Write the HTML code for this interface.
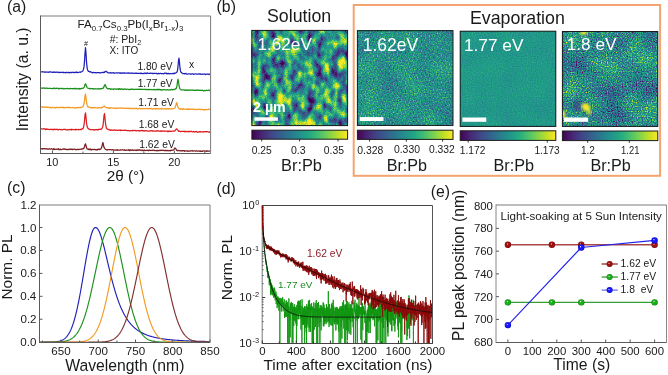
<!DOCTYPE html>
<html><head><meta charset="utf-8"><title>figure</title>
<style>
html,body{margin:0;padding:0;background:#fff;width:668px;height:375px;overflow:hidden;}
svg{display:block;font-family:"Liberation Sans",sans-serif;will-change:transform;}
</style></head><body>
<svg width="668" height="375" viewBox="0 0 668 375">
<rect width="668" height="375" fill="#fff"/>
<text x="7.02" y="12.4" font-size="15.8" fill="#1a1a1a" >(a)</text>
<text x="216.62" y="12.1" font-size="15.8" fill="#1a1a1a" >(b)</text>
<text x="7.02" y="193.3" font-size="15.8" fill="#1a1a1a" >(c)</text>
<text x="216.52" y="193.6" font-size="15.8" fill="#1a1a1a" >(d)</text>
<text x="430.82" y="196.6" font-size="15.8" fill="#1a1a1a" >(e)</text>
<polyline fill="none" stroke="#2020b8" stroke-width="1.25" stroke-linejoin="round"  points="41,71.79 41.5,71.9 42,71.82 42.5,71.74 43,71.86 43.5,71.78 44,72.02 44.5,72.31 45,71.97 45.5,71.97 46,72.21 46.5,72.21 47,72.18 47.5,71.99 48,72.19 48.5,72.35 49,71.95 49.5,72.15 50,71.87 50.5,72.01 51,71.91 51.5,72.24 52,72.04 52.5,72.36 53,72.35 53.5,72.29 54,71.83 54.5,72.24 55,72.34 55.5,72.38 56,72.06 56.5,72.28 57,72.19 57.5,72.23 58,72.61 58.5,72.24 59,72.4 59.5,72.59 60,72.3 60.5,72.4 61,72.45 61.5,72.45 62,72.19 62.5,72.46 63,72.72 63.5,72.14 64,72.63 64.5,72.48 65,72.33 65.5,72.87 66,72.62 66.5,72.23 67,72.49 67.5,72.59 68,72.44 68.5,72.62 69,72.47 69.5,72.62 70,72.78 70.5,72.36 71,72.53 71.5,72.4 72,72.52 72.5,72.25 73,72.37 73.5,72.45 74,72.66 74.5,72.7 75,72.2 75.5,72.3 76,72.58 76.5,72.04 77,72.33 77.5,72.38 78,72.63 78.5,72.48 79,72.24 79.5,72.18 80,72.14 80.5,72.4 81,71.89 81.5,71.75 82,71.64 82.5,71.19 83,70.58 83.5,69.24 84,66.91 84.5,61.49 85,53.35 85.5,47.63 86,53.12 86.5,61.74 87,66.87 87.5,69.71 88,70.66 88.5,71.39 89,71.38 89.5,71.96 90,71.73 90.5,71.79 91,72.23 91.5,72.19 92,72.46 92.5,72.93 93,72.36 93.5,72.43 94,72.63 94.5,72.71 95,72.6 95.5,72.61 96,72.81 96.5,72.79 97,72.49 97.5,72.69 98,72.73 98.5,72.52 99,72.79 99.5,72.57 100,72.94 100.5,72.79 101,72.77 101.5,72.63 102,72.71 102.5,72.32 103,72.46 103.5,72.7 104,72.09 104.5,72.47 105,71.62 105.5,71.74 106,71.22 106.5,71.76 107,72.03 107.5,72.04 108,72.82 108.5,72.99 109,72.76 109.5,72.77 110,72.82 110.5,72.68 111,73.12 111.5,72.8 112,72.92 112.5,72.78 113,72.82 113.5,72.7 114,73.22 114.5,72.95 115,73.18 115.5,73 116,72.86 116.5,72.94 117,72.9 117.5,73.02 118,72.96 118.5,72.98 119,72.77 119.5,72.89 120,73.39 120.5,72.93 121,72.86 121.5,73.14 122,73.36 122.5,72.8 123,73.05 123.5,72.98 124,72.76 124.5,73.26 125,73.12 125.5,73.14 126,72.98 126.5,73.23 127,73.04 127.5,73.12 128,72.94 128.5,72.92 129,73.44 129.5,73.08 130,73.24 130.5,73.18 131,73.11 131.5,73.1 132,73.34 132.5,73.15 133,73.19 133.5,73.23 134,73.47 134.5,73.38 135,73.32 135.5,73.14 136,72.98 136.5,73.45 137,73.46 137.5,73.25 138,73.39 138.5,73.45 139,73.46 139.5,73.49 140,73.22 140.5,73.62 141,73.07 141.5,73.5 142,73.43 142.5,73.51 143,73.72 143.5,73.65 144,73.13 144.5,73.03 145,73.53 145.5,73.17 146,73.38 146.5,73.56 147,73.07 147.5,72.98 148,73.46 148.5,73.42 149,73.37 149.5,73.43 150,73.26 150.5,73.14 151,73.41 151.5,73.26 152,73.13 152.5,73.56 153,73.46 153.5,73.56 154,73.28 154.5,73.36 155,73.29 155.5,73.32 156,73.55 156.5,73.36 157,73.59 157.5,73.59 158,73.93 158.5,73.26 159,73.72 159.5,73.53 160,73.55 160.5,73.27 161,73.47 161.5,73.72 162,73.56 162.5,73.59 163,73.53 163.5,73.82 164,73.59 164.5,73.16 165,73.46 165.5,73.21 166,72.96 166.5,73.5 167,73.88 167.5,73.62 168,73.38 168.5,73.43 169,73.84 169.5,73.65 170,73.62 170.5,73.59 171,73.6 171.5,73.75 172,73.68 172.5,73.6 173,73.32 173.5,73.59 174,73.3 174.5,73.59 175,73.02 175.5,73.1 176,72.91 176.5,72.27 177,72.14 177.5,70.36 178,66.24 178.5,60.7 179,58.11 179.5,62.45 180,68.21 180.5,70.97 181,72.24 181.5,72.57 182,73.04 182.5,73.26 183,73.67 183.5,73.6 184,73.61 184.5,73.97 185,73.6 185.5,73.67 186,73.42 186.5,74.12 187,74.02 187.5,74.04 188,74 188.5,73.91 189,73.95 189.5,73.87 190,73.89 190.5,73.95 191,74.26 191.5,74.08 192,73.97 192.5,73.87 193,73.87 193.5,74.33 194,74.12 194.5,74.04 195,73.97 195.5,73.83 196,74.04 196.5,74.24 197,74 197.5,74.04 198,74.05 198.5,74.12 199,73.79 199.5,74.07 200,73.96 200.5,74.31 201,73.99 201.5,74.27 202,74.47 202.5,74.11 203,74.06 203.5,74.22 204,74.19 204.5,74 205,74.3 205.5,74.62 206,74.17 206.5,74.19 207,74.03 207.5,74.31 208,74.01 208.5,74.05 209,74.53 209.5,74.1 210,74.51"/>
<polyline fill="none" stroke="#1c901c" stroke-width="1.25" stroke-linejoin="round"  points="41,88.2 41.5,87.99 42,88.09 42.5,88.41 43,88.02 43.5,87.97 44,87.85 44.5,88.16 45,88.47 45.5,88.39 46,88.03 46.5,88.07 47,88.16 47.5,88.34 48,88.26 48.5,88.36 49,88.39 49.5,88.29 50,88.36 50.5,88.42 51,88.37 51.5,88.5 52,88.79 52.5,88.54 53,88.44 53.5,88.11 54,88.53 54.5,88.07 55,88.19 55.5,88.65 56,88.63 56.5,88.46 57,88.16 57.5,88.44 58,88.38 58.5,88.65 59,88.98 59.5,88.58 60,88.39 60.5,88.31 61,88.54 61.5,88.53 62,88.34 62.5,88.6 63,88.35 63.5,88.81 64,88.8 64.5,88.81 65,88.5 65.5,88.71 66,88.58 66.5,88.54 67,88.55 67.5,88.36 68,88.34 68.5,88.79 69,88.6 69.5,88.69 70,88.85 70.5,88.3 71,88.5 71.5,88.69 72,88.74 72.5,88.59 73,88.88 73.5,88.72 74,88.43 74.5,88.49 75,88.84 75.5,88.78 76,88.3 76.5,88.95 77,88.8 77.5,88.95 78,88.61 78.5,88.62 79,88.45 79.5,89.17 80,88.62 80.5,88.95 81,88.48 81.5,88.61 82,88.18 82.5,88.36 83,88.49 83.5,87.75 84,87.63 84.5,86.38 85,84.54 85.5,83.72 86,84.67 86.5,86.32 87,87.33 87.5,87.88 88,88.28 88.5,88.29 89,88.33 89.5,88.64 90,88.87 90.5,88.42 91,88.76 91.5,88.65 92,88.6 92.5,88.98 93,88.72 93.5,89.14 94,88.69 94.5,88.93 95,88.82 95.5,88.72 96,88.99 96.5,88.84 97,89 97.5,88.87 98,88.66 98.5,88.86 99,88.88 99.5,89.06 100,88.67 100.5,88.83 101,88.46 101.5,88.89 102,88.47 102.5,88.21 103,88.31 103.5,88.04 104,86.56 104.5,85.32 105,84.58 105.5,85.32 106,86.97 106.5,87.69 107,88.23 107.5,88.75 108,88.61 108.5,88.93 109,88.71 109.5,88.7 110,88.61 110.5,89.38 111,88.96 111.5,89.09 112,89.05 112.5,89.1 113,89.09 113.5,89.48 114,88.9 114.5,88.8 115,88.92 115.5,88.87 116,89.29 116.5,89.31 117,88.97 117.5,88.89 118,89.1 118.5,89.46 119,88.62 119.5,89.3 120,88.99 120.5,89.42 121,89 121.5,89.17 122,88.93 122.5,89.04 123,89.52 123.5,89.41 124,89.18 124.5,89.09 125,88.89 125.5,89.2 126,89.28 126.5,89.27 127,89.28 127.5,89.08 128,89.3 128.5,89.31 129,89.58 129.5,89.7 130,89.31 130.5,89.19 131,89.33 131.5,89.23 132,89.21 132.5,89.36 133,89.17 133.5,89.5 134,89.37 134.5,89.44 135,89.36 135.5,89.26 136,89.22 136.5,89.37 137,89.32 137.5,89.48 138,89.44 138.5,89.17 139,89.47 139.5,89.19 140,89.34 140.5,89.41 141,89.06 141.5,89.5 142,89.52 142.5,89.47 143,89.42 143.5,89.44 144,89.32 144.5,89.47 145,89.42 145.5,89.56 146,89.3 146.5,89.6 147,89.59 147.5,89.54 148,89.48 148.5,89.69 149,89.25 149.5,89.68 150,89.64 150.5,89.66 151,89.69 151.5,89.49 152,89.57 152.5,89.76 153,89.72 153.5,89.68 154,89.35 154.5,89.76 155,89.9 155.5,89.87 156,89.72 156.5,89.37 157,89.88 157.5,89.66 158,89.19 158.5,89.78 159,89.41 159.5,89.46 160,89.6 160.5,89.99 161,89.66 161.5,89.8 162,90.1 162.5,90.07 163,89.74 163.5,89.72 164,89.52 164.5,89.64 165,89.87 165.5,89.86 166,89.81 166.5,89.99 167,89.64 167.5,89.79 168,89.95 168.5,89.92 169,90.02 169.5,89.88 170,89.74 170.5,89.87 171,89.59 171.5,89.45 172,89.88 172.5,89.73 173,89.78 173.5,89.34 174,89.54 174.5,89.41 175,89.22 175.5,88.72 176,88.68 176.5,87.95 177,85.65 177.5,81.71 178,79.2 178.5,81.99 179,85.05 179.5,87.79 180,88.91 180.5,89.38 181,89.82 181.5,89.86 182,89.8 182.5,89.87 183,90.02 183.5,89.8 184,89.93 184.5,90.15 185,90.39 185.5,89.99 186,90.03 186.5,90.09 187,90.34 187.5,90.08 188,90.39 188.5,89.92 189,90.09 189.5,90.09 190,90.3 190.5,90.36 191,89.86 191.5,89.99 192,90.25 192.5,90.06 193,89.9 193.5,90.42 194,90.32 194.5,90.33 195,90.15 195.5,90.46 196,90.21 196.5,90.49 197,90.09 197.5,90.11 198,90.33 198.5,90.16 199,90.45 199.5,90.37 200,90.14 200.5,90.35 201,90.27 201.5,90.54 202,90.23 202.5,90.28 203,90.62 203.5,90.83 204,90.79 204.5,90.42 205,90.45 205.5,90.73 206,90.4 206.5,90.24 207,90.47 207.5,90.54 208,90.3 208.5,90.14 209,90.19 209.5,90.62 210,90.34"/>
<polyline fill="none" stroke="#f39a22" stroke-width="1.25" stroke-linejoin="round"  points="41,106.87 41.5,106.98 42,107.1 42.5,106.95 43,107.15 43.5,106.91 44,107.05 44.5,106.94 45,107.4 45.5,107.19 46,107.07 46.5,107.17 47,107.22 47.5,107.42 48,106.98 48.5,107.11 49,107.26 49.5,107.86 50,107.55 50.5,107.35 51,107.53 51.5,107.81 52,107.37 52.5,107.35 53,107.68 53.5,107.54 54,107.59 54.5,107.36 55,107.86 55.5,107.82 56,107.6 56.5,107.63 57,107.1 57.5,107.64 58,107.48 58.5,107.61 59,107.67 59.5,107.47 60,107.21 60.5,107.62 61,107.41 61.5,107.5 62,107.45 62.5,107.5 63,107.12 63.5,107.83 64,107.64 64.5,107.82 65,107.99 65.5,107.61 66,107.25 66.5,107.43 67,107.37 67.5,107.52 68,107.64 68.5,107.23 69,107.7 69.5,107.33 70,107.7 70.5,107.62 71,107.58 71.5,107.63 72,107.54 72.5,107.53 73,107.31 73.5,107.65 74,108.02 74.5,108.05 75,107.91 75.5,107.79 76,107.51 76.5,107.92 77,107.62 77.5,107.6 78,107.54 78.5,107.6 79,107.47 79.5,107.51 80,107.27 80.5,107.36 81,107.81 81.5,107.24 82,107.05 82.5,106.96 83,106.58 83.5,105.38 84,103.76 84.5,100.6 85,95.85 85.5,94.01 86,97.97 86.5,101.87 87,104.73 87.5,105.95 88,106.99 88.5,106.64 89,107.11 89.5,107.28 90,107.62 90.5,107.69 91,107.9 91.5,107.36 92,107.86 92.5,107.68 93,107.63 93.5,107.9 94,107.62 94.5,107.41 95,107.76 95.5,107.55 96,107.73 96.5,107.94 97,107.94 97.5,108.2 98,107.85 98.5,107.58 99,107.74 99.5,107.7 100,107.63 100.5,107.94 101,107.69 101.5,107.37 102,107.8 102.5,107.43 103,107.18 103.5,106.64 104,106.27 104.5,106.1 105,106.78 105.5,107.14 106,107.53 106.5,107.77 107,107.54 107.5,107.88 108,107.91 108.5,108.04 109,107.75 109.5,108.37 110,108.08 110.5,107.83 111,107.75 111.5,108.05 112,108.1 112.5,107.98 113,108.15 113.5,108.01 114,108.26 114.5,108.02 115,108.16 115.5,108.37 116,108.7 116.5,107.99 117,108.11 117.5,108.04 118,108.37 118.5,107.99 119,108.13 119.5,108.23 120,108.05 120.5,108.06 121,108.16 121.5,107.84 122,107.98 122.5,108.2 123,108.32 123.5,108.26 124,107.94 124.5,108.21 125,108.47 125.5,108.43 126,108.31 126.5,108.16 127,108.47 127.5,108.23 128,108.12 128.5,108.2 129,108.66 129.5,108.42 130,108.61 130.5,108.29 131,108.58 131.5,108.28 132,108.38 132.5,108.91 133,108.58 133.5,108.33 134,108.42 134.5,108.51 135,108.69 135.5,108.36 136,108.11 136.5,108.41 137,108.48 137.5,108.51 138,108.75 138.5,108.56 139,108.67 139.5,108.29 140,108.69 140.5,108.94 141,108.69 141.5,108.59 142,108.58 142.5,108.91 143,108.37 143.5,108.54 144,108.66 144.5,108.73 145,108.5 145.5,108.65 146,108.54 146.5,108.63 147,108.59 147.5,108.39 148,108.62 148.5,108.81 149,108.45 149.5,108.6 150,108.79 150.5,108.45 151,108.71 151.5,108.46 152,108.91 152.5,109.15 153,109.1 153.5,108.66 154,108.86 154.5,108.74 155,108.74 155.5,109.04 156,108.47 156.5,108.96 157,108.74 157.5,109.04 158,108.8 158.5,108.64 159,108.83 159.5,108.93 160,108.8 160.5,108.9 161,108.7 161.5,108.38 162,109 162.5,108.96 163,108.86 163.5,108.85 164,109.05 164.5,108.75 165,108.71 165.5,108.82 166,109.1 166.5,108.59 167,109.11 167.5,108.74 168,108.65 168.5,109.12 169,108.85 169.5,108.61 170,108.79 170.5,109.05 171,109.09 171.5,108.75 172,108.89 172.5,108.92 173,108.59 173.5,108.71 174,108.5 174.5,108.15 175,107.64 175.5,106.65 176,104.77 176.5,102.69 177,103.02 177.5,105.44 178,107 178.5,108.11 179,108.64 179.5,108.75 180,109.22 180.5,108.68 181,109.08 181.5,108.9 182,109.37 182.5,109.37 183,108.66 183.5,108.88 184,109.23 184.5,109.27 185,109.28 185.5,109.13 186,109.25 186.5,109.3 187,109.17 187.5,109.4 188,108.75 188.5,109.34 189,109.02 189.5,109.43 190,109.2 190.5,109.08 191,109.34 191.5,109.09 192,109.1 192.5,108.98 193,109.3 193.5,109.41 194,109.52 194.5,109.3 195,109.55 195.5,109.35 196,109.34 196.5,109.48 197,109.58 197.5,109.31 198,109.34 198.5,109.37 199,109.42 199.5,109.24 200,109.63 200.5,109.35 201,109.53 201.5,109.28 202,109.53 202.5,109.55 203,109.39 203.5,109.89 204,109.57 204.5,109.86 205,109.7 205.5,109.39 206,109.45 206.5,109.62 207,109.56 207.5,109.56 208,109.5 208.5,109.21 209,109.53 209.5,109.14 210,109.67"/>
<polyline fill="none" stroke="#dc1e22" stroke-width="1.25" stroke-linejoin="round"  points="41,128.75 41.5,128.79 42,128.94 42.5,129.07 43,128.77 43.5,128.74 44,128.91 44.5,128.74 45,128.98 45.5,129.52 46,129.02 46.5,129.38 47,129 47.5,129.35 48,129.25 48.5,129.32 49,129.46 49.5,129.71 50,129.41 50.5,129.41 51,129.21 51.5,129.53 52,129.38 52.5,129.61 53,129.44 53.5,129.81 54,129.08 54.5,129.42 55,129.67 55.5,129.43 56,129.35 56.5,129.47 57,129.25 57.5,129.56 58,130.03 58.5,129.78 59,129.34 59.5,129.39 60,129.49 60.5,129.78 61,129.42 61.5,129.45 62,129.77 62.5,129.78 63,129.54 63.5,129.39 64,129.31 64.5,129.49 65,129.19 65.5,129.79 66,129.52 66.5,129.74 67,130.03 67.5,129.89 68,129.43 68.5,129.84 69,129.9 69.5,129.52 70,129.49 70.5,129.66 71,129.36 71.5,129.98 72,129.21 72.5,129.47 73,129.64 73.5,129.64 74,129.72 74.5,129.74 75,129.64 75.5,129.91 76,129.25 76.5,129.67 77,129.51 77.5,129.67 78,129.67 78.5,129.42 79,129.44 79.5,129.69 80,129.55 80.5,129.28 81,129.73 81.5,129.65 82,128.7 82.5,128.76 83,128.69 83.5,127.31 84,124.99 84.5,120.74 85,115 85.5,112.83 86,117.28 86.5,122.88 87,125.98 87.5,127.61 88,128.24 88.5,128.88 89,128.97 89.5,129.29 90,129.66 90.5,129.61 91,129.71 91.5,129.74 92,129.72 92.5,129.72 93,129.71 93.5,129.94 94,129.59 94.5,130.08 95,129.83 95.5,129.68 96,129.73 96.5,129.69 97,129.85 97.5,129.66 98,130.01 98.5,129.59 99,129.25 99.5,129.49 100,129.15 100.5,129.42 101,129.45 101.5,129.08 102,128.18 102.5,127.28 103,125.61 103.5,121.2 104,115.54 104.5,113.55 105,118.29 105.5,123.34 106,126.4 106.5,128.08 107,128.9 107.5,129.07 108,129.24 108.5,129.64 109,129.56 109.5,129.84 110,129.94 110.5,130.45 111,129.86 111.5,130.05 112,130.07 112.5,130.22 113,130.37 113.5,130.08 114,130.04 114.5,129.89 115,130.05 115.5,130.36 116,130.28 116.5,130.08 117,130.22 117.5,130.32 118,130.42 118.5,130.22 119,130.3 119.5,129.99 120,130.14 120.5,130.7 121,129.95 121.5,130.33 122,130.45 122.5,130.34 123,130.27 123.5,130.43 124,130.45 124.5,130.44 125,130.09 125.5,130.45 126,130.31 126.5,130.38 127,130.55 127.5,130.64 128,130.7 128.5,130.43 129,130.72 129.5,130.78 130,130.78 130.5,130.84 131,130.54 131.5,130.54 132,130.75 132.5,130.32 133,130.65 133.5,130.51 134,130.55 134.5,130.28 135,130.46 135.5,130.64 136,130.83 136.5,130.86 137,130.66 137.5,130.64 138,130.52 138.5,130.78 139,130.66 139.5,130.83 140,131.07 140.5,130.72 141,130.44 141.5,130.57 142,130.46 142.5,130.52 143,131.03 143.5,130.83 144,130.48 144.5,130.93 145,131.06 145.5,130.74 146,130.69 146.5,130.76 147,130.9 147.5,130.97 148,131.09 148.5,131.11 149,131.11 149.5,131.15 150,131.02 150.5,130.59 151,130.88 151.5,130.98 152,130.85 152.5,131.11 153,130.87 153.5,130.76 154,131.24 154.5,131.1 155,131.02 155.5,131.17 156,131.2 156.5,131.07 157,130.51 157.5,130.88 158,130.93 158.5,130.83 159,131.08 159.5,131.29 160,130.96 160.5,130.84 161,131.48 161.5,130.99 162,130.84 162.5,131.14 163,131.19 163.5,130.97 164,131.28 164.5,131.03 165,130.95 165.5,131.18 166,131.3 166.5,131.03 167,131.23 167.5,131.15 168,131.74 168.5,131.04 169,131.46 169.5,131.18 170,131.16 170.5,131.33 171,131.36 171.5,131.43 172,131.24 172.5,131.03 173,131.01 173.5,131.17 174,131.08 174.5,131.05 175,130.47 175.5,129.97 176,129.33 176.5,128.81 177,129.03 177.5,129.84 178,130.33 178.5,131.26 179,130.94 179.5,131.45 180,131.38 180.5,131.65 181,131.54 181.5,131.35 182,131.35 182.5,131.43 183,131.46 183.5,131.34 184,131.45 184.5,131.79 185,131.15 185.5,131.55 186,131.33 186.5,131.56 187,131.7 187.5,131.53 188,131.71 188.5,131.25 189,131.8 189.5,131.47 190,131.72 190.5,131.64 191,131.1 191.5,131.48 192,131.68 192.5,131.96 193,131.72 193.5,131.72 194,131.4 194.5,131.97 195,132.06 195.5,131.71 196,131.67 196.5,131.4 197,131.91 197.5,132.29 198,131.9 198.5,132.02 199,131.89 199.5,131.59 200,132.06 200.5,131.56 201,131.77 201.5,131.88 202,132.01 202.5,131.93 203,131.93 203.5,131.71 204,131.62 204.5,131.9 205,131.75 205.5,131.64 206,131.66 206.5,131.83 207,131.57 207.5,131.68 208,131.63 208.5,132 209,132.06 209.5,132.39 210,131.7"/>
<polyline fill="none" stroke="#7a1e22" stroke-width="1.25" stroke-linejoin="round"  points="41,148.46 41.5,148.82 42,148.64 42.5,148.66 43,149.1 43.5,148.72 44,148.59 44.5,148.59 45,148.94 45.5,148.96 46,148.65 46.5,148.75 47,149.07 47.5,149.1 48,148.88 48.5,149.15 49,149.15 49.5,148.7 50,149.01 50.5,149.16 51,148.98 51.5,148.68 52,149.06 52.5,149.28 53,149.46 53.5,148.71 54,149.68 54.5,148.94 55,149.37 55.5,149.43 56,149.39 56.5,149.23 57,148.98 57.5,149.34 58,149.08 58.5,148.73 59,149.8 59.5,149.39 60,149.62 60.5,149.08 61,149.56 61.5,149.59 62,149.59 62.5,149.28 63,149.05 63.5,149.26 64,148.86 64.5,148.96 65,149.33 65.5,149.12 66,149.29 66.5,149.3 67,149.72 67.5,149.6 68,149.33 68.5,149.59 69,149.2 69.5,149.29 70,149.54 70.5,149.12 71,149.31 71.5,149.11 72,149.4 72.5,149.71 73,149.24 73.5,149.43 74,149.21 74.5,149.17 75,149.15 75.5,149.69 76,149.87 76.5,149.5 77,149.26 77.5,149.54 78,149.34 78.5,149.56 79,149.45 79.5,149.44 80,149.5 80.5,149.24 81,149.25 81.5,148.95 82,149.16 82.5,148.88 83,148.99 83.5,148.53 84,148.08 84.5,146.82 85,144.51 85.5,143.84 86,145.4 86.5,147.53 87,148.76 87.5,149.08 88,149.07 88.5,149.55 89,149.03 89.5,149.69 90,149.3 90.5,148.91 91,150.02 91.5,149.82 92,149.31 92.5,149.57 93,149.5 93.5,149.57 94,149.26 94.5,149.42 95,149.66 95.5,149.61 96,149.8 96.5,149.58 97,150.02 97.5,149.4 98,149.58 98.5,149.11 99,149.21 99.5,149.66 100,149.11 100.5,149.24 101,148.79 101.5,147.82 102,146.29 102.5,143.65 103,142.53 103.5,145 104,147.32 104.5,148.35 105,148.84 105.5,149.34 106,149.41 106.5,149.72 107,150.11 107.5,149.8 108,149.66 108.5,149.66 109,149.55 109.5,149.56 110,149.56 110.5,149.69 111,149.7 111.5,149.95 112,149.73 112.5,149.78 113,149.59 113.5,150.17 114,149.95 114.5,150.22 115,150.03 115.5,150.17 116,149.83 116.5,150.04 117,150.44 117.5,149.66 118,150.15 118.5,150.26 119,150.01 119.5,150.09 120,150.2 120.5,149.82 121,150.04 121.5,149.79 122,149.83 122.5,149.85 123,149.96 123.5,150.02 124,150.09 124.5,149.72 125,150.42 125.5,150.26 126,150.18 126.5,149.96 127,150.02 127.5,150.16 128,150.14 128.5,149.72 129,150.22 129.5,150.67 130,149.7 130.5,150.29 131,150.17 131.5,150.08 132,150.39 132.5,149.87 133,150.16 133.5,150.43 134,150.1 134.5,150.06 135,150.17 135.5,150.07 136,150.48 136.5,149.99 137,150.36 137.5,149.93 138,150.33 138.5,150.18 139,149.67 139.5,150.21 140,150 140.5,150.14 141,150.55 141.5,150.01 142,150.03 142.5,150.55 143,150.29 143.5,150.59 144,150.34 144.5,150.1 145,150.28 145.5,150.55 146,150.5 146.5,150.31 147,150.33 147.5,150.3 148,150.21 148.5,150.74 149,150.35 149.5,150.12 150,150.26 150.5,150.52 151,150.5 151.5,150.35 152,150.25 152.5,150.4 153,150.06 153.5,150.14 154,150.58 154.5,150.32 155,150.51 155.5,150.69 156,150.58 156.5,150.45 157,150.89 157.5,150.6 158,150.4 158.5,150.63 159,150.57 159.5,150.32 160,150.51 160.5,150.47 161,150.11 161.5,150.48 162,150.47 162.5,150.44 163,150.2 163.5,150.47 164,150.54 164.5,150.58 165,150.33 165.5,150.7 166,150.32 166.5,150.53 167,150.85 167.5,150.44 168,150.48 168.5,150.81 169,150.51 169.5,150.53 170,150.63 170.5,150.79 171,150.11 171.5,150.37 172,150.29 172.5,150.21 173,150.12 173.5,149.84 174,149.53 174.5,148.45 175,147.98 175.5,148.38 176,149.04 176.5,149.9 177,150.6 177.5,150.53 178,150.44 178.5,150.62 179,150.49 179.5,150.76 180,150.91 180.5,150.59 181,150.73 181.5,151.01 182,150.7 182.5,150.85 183,150.62 183.5,150.67 184,150.74 184.5,151.29 185,150.79 185.5,150.77 186,150.78 186.5,150.86 187,151.04 187.5,150.95 188,151.34 188.5,150.98 189,151.23 189.5,151.01 190,151.08 190.5,150.68 191,150.95 191.5,150.97 192,150.95 192.5,150.57 193,151.19 193.5,150.94 194,150.94 194.5,150.99 195,151 195.5,151.13 196,150.81 196.5,150.88 197,151.14 197.5,151.12 198,151.02 198.5,150.99 199,150.94 199.5,151.11 200,151.36 200.5,150.93 201,151.45 201.5,151.32 202,151.07 202.5,151.33 203,150.89 203.5,150.84 204,150.94 204.5,151.12 205,151.15 205.5,151.12 206,151.25 206.5,150.81 207,151.35 207.5,150.97 208,151.13 208.5,151.19 209,151.05 209.5,151.02 210,151.1"/>
<line x1="40.5" y1="16" x2="210.6" y2="16" stroke="#7a7a7a" stroke-width="1.0"/>
<line x1="210.6" y1="16" x2="210.6" y2="153.5" stroke="#7a7a7a" stroke-width="1.0"/>
<line x1="40.5" y1="153.5" x2="210.6" y2="153.5" stroke="#5a5a5a" stroke-width="1.0"/>
<line x1="40.5" y1="15.5" x2="40.5" y2="154" stroke="#5a5a5a" stroke-width="1.0"/>
<line x1="52.45" y1="153.5" x2="52.45" y2="150.5" stroke="#5a5a5a" stroke-width="1.0"/>
<text x="46.19" y="165.6" font-size="10.9" fill="#1a1a1a" >10</text>
<line x1="113.4" y1="153.5" x2="113.4" y2="150.5" stroke="#5a5a5a" stroke-width="1.0"/>
<text x="107.15" y="165.6" font-size="10.9" fill="#1a1a1a" >15</text>
<line x1="174.35" y1="153.5" x2="174.35" y2="150.5" stroke="#5a5a5a" stroke-width="1.0"/>
<text x="168.23" y="165.6" font-size="10.9" fill="#1a1a1a" >20</text>
<line x1="82.93" y1="153.5" x2="82.93" y2="151.5" stroke="#5a5a5a" stroke-width="1.0"/>
<line x1="143.88" y1="153.5" x2="143.88" y2="151.5" stroke="#5a5a5a" stroke-width="1.0"/>
<line x1="204.82" y1="153.5" x2="204.82" y2="151.5" stroke="#5a5a5a" stroke-width="1.0"/>
<text x="106.73" y="181.1" font-size="15.32" fill="#1a1a1a" >2θ (°)</text>
<text transform="translate(27.9,131.24) rotate(-90)" font-size="15.7" fill="#1a1a1a">Intensity (a. u.)</text>
<text x="77.45" y="27.7" font-size="11.6" fill="#1a1a1a">FA<tspan font-size="7.8" dy="3.4">0.7</tspan><tspan dy="-3.4">Cs</tspan><tspan font-size="7.8" dy="3.4">0.3</tspan><tspan dy="-3.4">Pb(I</tspan><tspan font-size="7.8" dy="3.4">x</tspan><tspan dy="-3.4">Br</tspan><tspan font-size="7.8" dy="3.4">1-x</tspan><tspan dy="-3.4">)</tspan><tspan font-size="7.8" dy="3.4">3</tspan></text>
<text x="109.7" y="42.8" font-size="10.5" fill="#1a1a1a">#: PbI<tspan font-size="7.3" dy="2.6">2</tspan></text>
<text x="109.57" y="54.4" font-size="10" fill="#1a1a1a" >X: ITO</text>
<text x="84" y="45.6" font-size="7.2" fill="#1a1a1a" >#</text>
<text x="188.92" y="68.4" font-size="10.3" fill="#1a1a1a" >x</text>
<text x="137.42" y="70" font-size="10.22" fill="#1a1a1a" >1.80 eV</text>
<text x="137.63" y="87" font-size="10.16" fill="#1a1a1a" >1.77 eV</text>
<text x="138.31" y="106.4" font-size="10.37" fill="#1a1a1a" >1.71 eV</text>
<text x="138.71" y="128" font-size="10.34" fill="#1a1a1a" >1.68 eV</text>
<text x="139.21" y="147.9" font-size="10.34" fill="#1a1a1a" >1.62 eV</text>
<text x="266.98" y="22.2" font-size="17.78" fill="#1a1a1a" >Solution</text>
<text x="469.94" y="23.9" font-size="17.8" fill="#1a1a1a" >Evaporation</text>
<rect x="353.7" y="5" width="306.4" height="170.8" fill="none" stroke="#f4a46e" stroke-width="2"/>
<defs>
<filter id="fSol" x="0" y="0" width="100%" height="100%" color-interpolation-filters="sRGB">
<feTurbulence type="fractalNoise" baseFrequency="0.13 0.085" numOctaves="2" seed="3"/>
<feColorMatrix type="matrix" values="1 0 0 0 0  1 0 0 0 0  1 0 0 0 0  0 0 0 0 1" result="a"/>
<feTurbulence type="fractalNoise" baseFrequency="0.9" numOctaves="1" seed="21"/>
<feColorMatrix type="matrix" values="1 0 0 0 0  1 0 0 0 0  1 0 0 0 0  0 0 0 0 1" result="b"/>
<feComposite in="a" in2="b" operator="arithmetic" k1="0" k2="0.7826" k3="0.2174" k4="0"/>
<feComponentTransfer><feFuncR type="linear" slope="2.3000" intercept="-0.6300"/><feFuncG type="linear" slope="2.3000" intercept="-0.6300"/><feFuncB type="linear" slope="2.3000" intercept="-0.6300"/></feComponentTransfer>
<feComponentTransfer><feFuncR type="table" tableValues="0.267 0.282 0.255 0.208 0.165 0.129 0.133 0.267 0.478 0.741 0.992"/><feFuncG type="table" tableValues="0.004 0.141 0.267 0.373 0.471 0.569 0.659 0.749 0.820 0.875 0.906"/><feFuncB type="table" tableValues="0.329 0.459 0.529 0.553 0.557 0.549 0.518 0.439 0.318 0.149 0.145"/></feComponentTransfer>
<feGaussianBlur stdDeviation="0.3" edgeMode="duplicate"/>
</filter>
<filter id="fE1" x="0" y="0" width="100%" height="100%" color-interpolation-filters="sRGB">
<feTurbulence type="fractalNoise" baseFrequency="0.05" numOctaves="1" seed="5"/>
<feColorMatrix type="matrix" values="1 0 0 0 0  1 0 0 0 0  1 0 0 0 0  0 0 0 0 1" result="a"/>
<feTurbulence type="fractalNoise" baseFrequency="0.75" numOctaves="1" seed="22"/>
<feColorMatrix type="matrix" values="1 0 0 0 0  1 0 0 0 0  1 0 0 0 0  0 0 0 0 1" result="b"/>
<feComposite in="a" in2="b" operator="arithmetic" k1="0" k2="0.2222" k3="0.7778" k4="0"/>
<feComponentTransfer><feFuncR type="linear" slope="1.3500" intercept="-0.1700"/><feFuncG type="linear" slope="1.3500" intercept="-0.1700"/><feFuncB type="linear" slope="1.3500" intercept="-0.1700"/></feComponentTransfer>
<feComponentTransfer><feFuncR type="table" tableValues="0.267 0.282 0.255 0.208 0.165 0.129 0.133 0.267 0.478 0.741 0.992"/><feFuncG type="table" tableValues="0.004 0.141 0.267 0.373 0.471 0.569 0.659 0.749 0.820 0.875 0.906"/><feFuncB type="table" tableValues="0.329 0.459 0.529 0.553 0.557 0.549 0.518 0.439 0.318 0.149 0.145"/></feComponentTransfer>
<feGaussianBlur stdDeviation="0.35" edgeMode="duplicate"/>
</filter>
<filter id="fE2" x="0" y="0" width="100%" height="100%" color-interpolation-filters="sRGB">
<feTurbulence type="fractalNoise" baseFrequency="0.05" numOctaves="1" seed="9"/>
<feColorMatrix type="matrix" values="1 0 0 0 0  1 0 0 0 0  1 0 0 0 0  0 0 0 0 1" result="a"/>
<feTurbulence type="fractalNoise" baseFrequency="0.8" numOctaves="1" seed="23"/>
<feColorMatrix type="matrix" values="1 0 0 0 0  1 0 0 0 0  1 0 0 0 0  0 0 0 0 1" result="b"/>
<feComposite in="a" in2="b" operator="arithmetic" k1="0" k2="0.2222" k3="0.7778" k4="0"/>
<feComponentTransfer><feFuncR type="linear" slope="0.4500" intercept="0.3100"/><feFuncG type="linear" slope="0.4500" intercept="0.3100"/><feFuncB type="linear" slope="0.4500" intercept="0.3100"/></feComponentTransfer>
<feComponentTransfer><feFuncR type="table" tableValues="0.267 0.282 0.255 0.208 0.165 0.129 0.133 0.267 0.478 0.741 0.992"/><feFuncG type="table" tableValues="0.004 0.141 0.267 0.373 0.471 0.569 0.659 0.749 0.820 0.875 0.906"/><feFuncB type="table" tableValues="0.329 0.459 0.529 0.553 0.557 0.549 0.518 0.439 0.318 0.149 0.145"/></feComponentTransfer>
</filter>
<filter id="fE3" x="0" y="0" width="100%" height="100%" color-interpolation-filters="sRGB">
<feTurbulence type="fractalNoise" baseFrequency="0.04" numOctaves="2" seed="11"/>
<feColorMatrix type="matrix" values="1 0 0 0 0  1 0 0 0 0  1 0 0 0 0  0 0 0 0 1" result="a"/>
<feTurbulence type="fractalNoise" baseFrequency="0.8" numOctaves="1" seed="24"/>
<feColorMatrix type="matrix" values="1 0 0 0 0  1 0 0 0 0  1 0 0 0 0  0 0 0 0 1" result="b"/>
<feComposite in="a" in2="b" operator="arithmetic" k1="0" k2="0.2632" k3="0.7368" k4="0"/>
<feComponentTransfer><feFuncR type="linear" slope="1.9000" intercept="-0.4800"/><feFuncG type="linear" slope="1.9000" intercept="-0.4800"/><feFuncB type="linear" slope="1.9000" intercept="-0.4800"/></feComponentTransfer>
<feComponentTransfer><feFuncR type="table" tableValues="0.267 0.282 0.255 0.208 0.165 0.129 0.133 0.267 0.478 0.741 0.992"/><feFuncG type="table" tableValues="0.004 0.141 0.267 0.373 0.471 0.569 0.659 0.749 0.820 0.875 0.906"/><feFuncB type="table" tableValues="0.329 0.459 0.529 0.553 0.557 0.549 0.518 0.439 0.318 0.149 0.145"/></feComponentTransfer>
<feGaussianBlur stdDeviation="0.25" edgeMode="duplicate"/>
</filter>
<linearGradient id="gv" x1="0" x2="1" y1="0" y2="0"><stop offset="0" stop-color="#440154"/><stop offset="0.1" stop-color="#482475"/><stop offset="0.2" stop-color="#414487"/><stop offset="0.3" stop-color="#355f8d"/><stop offset="0.4" stop-color="#2a788e"/><stop offset="0.5" stop-color="#21918c"/><stop offset="0.6" stop-color="#22a884"/><stop offset="0.7" stop-color="#44bf70"/><stop offset="0.8" stop-color="#7ad151"/><stop offset="0.9" stop-color="#bddf26"/><stop offset="1" stop-color="#fde725"/></linearGradient>
<filter id="blur1" x="-50%" y="-50%" width="200%" height="200%"><feGaussianBlur stdDeviation="0.8"/></filter>
</defs>
<rect x="251.9" y="30.4" width="95.7" height="95.2" filter="url(#fSol)" fill="#21918c"/>
<rect x="251.9" y="30.4" width="95.7" height="95.2" fill="none" stroke="#1c1c1c" stroke-width="1"/>
<rect x="254.4" y="117.3" width="23.5" height="3.5" fill="#fff"/>
<rect x="251.9" y="130.2" width="95.7" height="9" fill="url(#gv)" stroke="#1c1c1c" stroke-width="1"/>
<rect x="357.4" y="30.7" width="95.6" height="94.7" filter="url(#fE1)" fill="#21918c"/>
<rect x="357.4" y="30.7" width="95.6" height="94.7" fill="none" stroke="#1c1c1c" stroke-width="1"/>
<rect x="359.7" y="117.1" width="23.8" height="3.9" fill="#fff"/>
<rect x="357.4" y="130.2" width="95.6" height="9.2" fill="url(#gv)" stroke="#1c1c1c" stroke-width="1"/>
<rect x="460.2" y="31.2" width="95.6" height="95.2" filter="url(#fE2)" fill="#21918c"/>
<rect x="460.2" y="31.2" width="95.6" height="95.2" fill="none" stroke="#1c1c1c" stroke-width="1"/>
<rect x="462.4" y="117.5" width="23.9" height="4.3" fill="#fff"/>
<rect x="460.2" y="130.8" width="95.6" height="9.6" fill="url(#gv)" stroke="#1c1c1c" stroke-width="1"/>
<rect x="562.4" y="31.5" width="95.4" height="94.9" filter="url(#fE3)" fill="#21918c"/>
<clipPath id="cm3"><rect x="562.4" y="31.5" width="95.4" height="94.9"/></clipPath>
<g clip-path="url(#cm3)"><g filter="url(#blur1)">
<ellipse cx="577" cy="106" rx="4" ry="5.5" fill="#3a4a88" opacity="0.6"/>
<ellipse cx="586" cy="107.2" rx="4.6" ry="3.6" transform="rotate(40 586 107.2)" fill="#f2e62a"/>
<ellipse cx="589.2" cy="112" rx="1.6" ry="3" fill="#d6e030"/>
<ellipse cx="563" cy="114" rx="2.2" ry="3.6" fill="#e8e33a"/>
<ellipse cx="583.5" cy="32.8" rx="3.6" ry="2" fill="#dfe330"/>
</g></g>
<rect x="562.4" y="31.5" width="95.4" height="94.9" fill="none" stroke="#1c1c1c" stroke-width="1"/>
<rect x="564" y="117.5" width="24.1" height="4.3" fill="#fff"/>
<rect x="562.4" y="131" width="95.4" height="9.6" fill="url(#gv)" stroke="#1c1c1c" stroke-width="1"/>
<text x="257.39" y="49.9" font-size="17.2" fill="#ffffff" >1.62eV</text>
<text x="362.77" y="51.4" font-size="17.45" fill="#ffffff" >1.62eV</text>
<text x="463.89" y="50.6" font-size="17.29" fill="#ffffff" >1.77 eV</text>
<text x="566.79" y="49.5" font-size="17.22" fill="#ffffff" >1.8 eV</text>
<text x="253.1" y="111.5" font-size="14.17" fill="#ffffff" font-weight="bold" >2 µm</text>
<text x="281.06" y="170.7" font-size="16.37" fill="#1a1a1a" >Br:Pb</text>
<text x="386.68" y="170.5" font-size="16.15" fill="#1a1a1a" >Br:Pb</text>
<text x="493.47" y="171.2" font-size="16.2" fill="#1a1a1a" >Br:Pb</text>
<text x="590.48" y="171.2" font-size="16.15" fill="#1a1a1a" >Br:Pb</text>
<line x1="261.7" y1="139.2" x2="261.7" y2="141.4" stroke="#1c1c1c" stroke-width="0.9"/>
<line x1="299.6" y1="139.2" x2="299.6" y2="141.4" stroke="#1c1c1c" stroke-width="0.9"/>
<line x1="338" y1="139.2" x2="338" y2="141.4" stroke="#1c1c1c" stroke-width="0.9"/>
<text x="251.7" y="153.6" font-size="10.8" fill="#1a1a1a" textLength="20.04" lengthAdjust="spacingAndGlyphs" >0.25</text>
<text x="290.89" y="153.6" font-size="10.8" fill="#1a1a1a" textLength="14.68" lengthAdjust="spacingAndGlyphs" >0.3</text>
<text x="323.79" y="153.6" font-size="10.8" fill="#1a1a1a" textLength="20.25" lengthAdjust="spacingAndGlyphs" >0.35</text>
<line x1="369.6" y1="139.4" x2="369.6" y2="141.6" stroke="#1c1c1c" stroke-width="0.9"/>
<line x1="406.3" y1="139.4" x2="406.3" y2="141.6" stroke="#1c1c1c" stroke-width="0.9"/>
<line x1="442.6" y1="139.4" x2="442.6" y2="141.6" stroke="#1c1c1c" stroke-width="0.9"/>
<text x="357.29" y="153.5" font-size="10.8" fill="#1a1a1a" textLength="26.06" lengthAdjust="spacingAndGlyphs" >0.328</text>
<text x="393.89" y="153.4" font-size="10.8" fill="#1a1a1a" textLength="26.12" lengthAdjust="spacingAndGlyphs" >0.330</text>
<text x="428.9" y="153.4" font-size="10.8" fill="#1a1a1a" textLength="25.82" lengthAdjust="spacingAndGlyphs" >0.332</text>
<line x1="468.2" y1="140.4" x2="468.2" y2="142.6" stroke="#1c1c1c" stroke-width="0.9"/>
<line x1="547.3" y1="140.4" x2="547.3" y2="142.6" stroke="#1c1c1c" stroke-width="0.9"/>
<text x="459.83" y="154.2" font-size="10.8" fill="#1a1a1a" textLength="25.49" lengthAdjust="spacingAndGlyphs" >1.172</text>
<text x="534.43" y="154.2" font-size="10.8" fill="#1a1a1a" textLength="25.32" lengthAdjust="spacingAndGlyphs" >1.173</text>
<line x1="587.7" y1="140.6" x2="587.7" y2="142.8" stroke="#1c1c1c" stroke-width="0.9"/>
<line x1="629.3" y1="140.6" x2="629.3" y2="142.8" stroke="#1c1c1c" stroke-width="0.9"/>
<text x="580.94" y="154" font-size="10.8" fill="#1a1a1a" textLength="13.86" lengthAdjust="spacingAndGlyphs" >1.2</text>
<text x="621.09" y="154" font-size="10.8" fill="#1a1a1a" textLength="18.28" lengthAdjust="spacingAndGlyphs" >1.21</text>
<polyline fill="none" stroke="#2020b8" stroke-width="1.15" stroke-linejoin="round"  points="40,342.2 40.5,342.2 41,342.2 41.5,342.2 42,342.2 42.5,342.2 43,342.2 43.5,342.19 44,342.19 44.5,342.19 45,342.19 45.5,342.19 46,342.19 46.5,342.18 47,342.18 47.5,342.17 48,342.17 48.5,342.16 49,342.16 49.5,342.15 50,342.14 50.5,342.13 51,342.12 51.5,342.1 52,342.09 52.5,342.07 53,342.04 53.5,342.02 54,341.99 54.5,341.95 55,341.91 55.5,341.87 56,341.82 56.5,341.76 57,341.69 57.5,341.61 58,341.53 58.5,341.43 59,341.32 59.5,341.19 60,341.05 60.5,340.89 61,340.72 61.5,340.52 62,340.3 62.5,340.05 63,339.78 63.5,339.48 64,339.14 64.5,338.77 65,338.36 65.5,337.92 66,337.42 66.5,336.89 67,336.3 67.5,335.65 68,334.96 68.5,334.2 69,333.38 69.5,332.49 70,331.53 70.5,330.5 71,329.39 71.5,328.21 72,326.94 72.5,325.59 73,324.15 73.5,322.62 74,321 74.5,319.29 75,317.49 75.5,315.59 76,313.6 76.5,311.52 77,309.34 77.5,307.08 78,304.72 78.5,302.29 79,299.77 79.5,297.17 80,294.51 80.5,291.77 81,288.98 81.5,286.14 82,283.25 82.5,280.33 83,277.38 83.5,274.41 84,271.44 84.5,268.47 85,265.52 85.5,262.6 86,259.71 86.5,256.88 87,254.1 87.5,251.41 88,248.8 88.5,246.3 89,243.9 89.5,241.63 90,239.5 90.5,237.51 91,235.68 91.5,234.01 92,232.52 92.5,231.21 93,230.09 93.5,229.16 94,228.44 94.5,227.92 95,227.6 95.5,227.5 96,227.58 96.5,227.81 97,228.2 97.5,228.74 98,229.42 98.5,230.25 99,231.22 99.5,232.32 100,233.55 100.5,234.9 101,236.35 101.5,237.91 102,239.57 102.5,241.3 103,243.12 103.5,245 104,246.95 104.5,248.94 105,250.97 105.5,253.04 106,255.14 106.5,257.25 107,259.38 107.5,261.51 108,263.64 108.5,265.76 109,267.87 109.5,269.96 110,272.03 110.5,274.07 111,276.09 111.5,278.07 112,280.02 112.5,281.93 113,283.8 113.5,285.63 114,287.41 114.5,289.16 115,290.86 115.5,292.51 116,294.12 116.5,295.68 117,297.2 117.5,298.68 118,300.1 118.5,301.49 119,302.83 119.5,304.13 120,305.39 120.5,306.6 121,307.78 121.5,308.91 122,310.01 122.5,311.07 123,312.09 123.5,313.08 124,314.03 124.5,314.95 125,315.83 125.5,316.69 126,317.52 126.5,318.31 127,319.08 127.5,319.82 128,320.53 128.5,321.22 129,321.88 129.5,322.52 130,323.14 130.5,323.73 131,324.31 131.5,324.86 132,325.39 132.5,325.91 133,326.4 133.5,326.88 134,327.34 134.5,327.79 135,328.22 135.5,328.63 136,329.03 136.5,329.42 137,329.79 137.5,330.15 138,330.5 138.5,330.83 139,331.15 139.5,331.47 140,331.77 140.5,332.06 141,332.34 141.5,332.62 142,332.88 142.5,333.13 143,333.38 143.5,333.62 144,333.85 144.5,334.07 145,334.29 145.5,334.5 146,334.7 146.5,334.89 147,335.08 147.5,335.27 148,335.44 148.5,335.61 149,335.78 149.5,335.94 150,336.1 150.5,336.25 151,336.4 151.5,336.54 152,336.68 152.5,336.81 153,336.94 153.5,337.07 154,337.19 154.5,337.31 155,337.42 155.5,337.53 156,337.64 156.5,337.75 157,337.85 157.5,337.95 158,338.05 158.5,338.14 159,338.23 159.5,338.32 160,338.41 160.5,338.49 161,338.57 161.5,338.65 162,338.73 162.5,338.8 163,338.88 163.5,338.95 164,339.02 164.5,339.08 165,339.15 165.5,339.21 166,339.27 166.5,339.34 167,339.39 167.5,339.45 168,339.51 168.5,339.56 169,339.61 169.5,339.67 170,339.72 170.5,339.77 171,339.81 171.5,339.86 172,339.91 172.5,339.95 173,339.99 173.5,340.04 174,340.08 174.5,340.12 175,340.16 175.5,340.2 176,340.23 176.5,340.27 177,340.3 177.5,340.34 178,340.37 178.5,340.41 179,340.44 179.5,340.47 180,340.5 180.5,340.53 181,340.56 181.5,340.59 182,340.62 182.5,340.65 183,340.67 183.5,340.7 184,340.73 184.5,340.75 185,340.78 185.5,340.8 186,340.82 186.5,340.85 187,340.87 187.5,340.89 188,340.91 188.5,340.94 189,340.96 189.5,340.98 190,341 190.5,341.02 191,341.04 191.5,341.05 192,341.07 192.5,341.09 193,341.11 193.5,341.13 194,341.14 194.5,341.16 195,341.17 195.5,341.19 196,341.21 196.5,341.22 197,341.24 197.5,341.25 198,341.27 198.5,341.28 199,341.29 199.5,341.31 200,341.32 200.5,341.33 201,341.35 201.5,341.36 202,341.37 202.5,341.38 203,341.4 203.5,341.41 204,341.42 204.5,341.43 205,341.44 205.5,341.45 206,341.46 206.5,341.47 207,341.48 207.5,341.49 208,341.5 208.5,341.51 209,341.52 209.5,341.53"/>
<polyline fill="none" stroke="#1c901c" stroke-width="1.15" stroke-linejoin="round"  points="40,342.2 40.5,342.2 41,342.2 41.5,342.2 42,342.2 42.5,342.2 43,342.2 43.5,342.2 44,342.2 44.5,342.2 45,342.19 45.5,342.19 46,342.19 46.5,342.19 47,342.19 47.5,342.19 48,342.19 48.5,342.18 49,342.18 49.5,342.18 50,342.18 50.5,342.17 51,342.17 51.5,342.16 52,342.16 52.5,342.15 53,342.15 53.5,342.14 54,342.13 54.5,342.12 55,342.11 55.5,342.1 56,342.08 56.5,342.07 57,342.05 57.5,342.03 58,342.01 58.5,341.98 59,341.95 59.5,341.92 60,341.89 60.5,341.85 61,341.8 61.5,341.75 62,341.7 62.5,341.64 63,341.57 63.5,341.5 64,341.42 64.5,341.33 65,341.23 65.5,341.12 66,341 66.5,340.87 67,340.73 67.5,340.57 68,340.4 68.5,340.21 69,340.01 69.5,339.79 70,339.55 70.5,339.29 71,339 71.5,338.7 72,338.36 72.5,338.01 73,337.62 73.5,337.2 74,336.76 74.5,336.28 75,335.76 75.5,335.21 76,334.62 76.5,333.99 77,333.32 77.5,332.6 78,331.85 78.5,331.04 79,330.18 79.5,329.28 80,328.32 80.5,327.31 81,326.24 81.5,325.12 82,323.95 82.5,322.71 83,321.41 83.5,320.06 84,318.64 84.5,317.17 85,315.63 85.5,314.04 86,312.38 86.5,310.66 87,308.88 87.5,307.05 88,305.15 88.5,303.21 89,301.21 89.5,299.15 90,297.05 90.5,294.9 91,292.71 91.5,290.48 92,288.21 92.5,285.91 93,283.58 93.5,281.22 94,278.85 94.5,276.47 95,274.07 95.5,271.67 96,269.28 96.5,266.89 97,264.51 97.5,262.16 98,259.83 98.5,257.54 99,255.28 99.5,253.08 100,250.92 100.5,248.82 101,246.79 101.5,244.83 102,242.95 102.5,241.15 103,239.44 103.5,237.83 104,236.32 104.5,234.91 105,233.62 105.5,232.43 106,231.37 106.5,230.43 107,229.62 107.5,228.93 108,228.38 108.5,227.96 109,227.67 109.5,227.52 110,227.51 110.5,227.64 111,227.92 111.5,228.34 112,228.91 112.5,229.61 113,230.46 113.5,231.44 114,232.55 114.5,233.78 115,235.15 115.5,236.62 116,238.21 116.5,239.91 117,241.71 117.5,243.6 118,245.58 118.5,247.64 119,249.77 119.5,251.98 120,254.24 120.5,256.55 121,258.91 121.5,261.31 122,263.74 122.5,266.19 123,268.66 123.5,271.14 124,273.62 124.5,276.11 125,278.58 125.5,281.04 126,283.48 126.5,285.89 127,288.27 127.5,290.62 128,292.93 128.5,295.2 129,297.41 129.5,299.58 130,301.7 130.5,303.75 131,305.76 131.5,307.7 132,309.58 132.5,311.39 133,313.14 133.5,314.83 134,316.45 134.5,318.01 135,319.5 135.5,320.93 136,322.29 136.5,323.59 137,324.83 137.5,326 138,327.12 138.5,328.17 139,329.17 139.5,330.11 140,331 140.5,331.84 141,332.63 141.5,333.36 142,334.06 142.5,334.7 143,335.31 143.5,335.87 144,336.4 144.5,336.88 145,337.34 145.5,337.76 146,338.15 146.5,338.51 147,338.84 147.5,339.15 148,339.43 148.5,339.69 149,339.92 149.5,340.14 150,340.34 150.5,340.52 151,340.69 151.5,340.84 152,340.98 152.5,341.1 153,341.22 153.5,341.32 154,341.41 154.5,341.5 155,341.57 155.5,341.64 156,341.7 156.5,341.76 157,341.81 157.5,341.85 158,341.89 158.5,341.93 159,341.96 159.5,341.99 160,342.01 160.5,342.04 161,342.06 161.5,342.07 162,342.09 162.5,342.1 163,342.12 163.5,342.13 164,342.14 164.5,342.14 165,342.15 165.5,342.16 166,342.16 166.5,342.17 167,342.17 167.5,342.18 168,342.18 168.5,342.18 169,342.18 169.5,342.19 170,342.19 170.5,342.19 171,342.19 171.5,342.19 172,342.19 172.5,342.19 173,342.2 173.5,342.2 174,342.2 174.5,342.2 175,342.2 175.5,342.2 176,342.2 176.5,342.2 177,342.2 177.5,342.2 178,342.2 178.5,342.2 179,342.2 179.5,342.2 180,342.2 180.5,342.2 181,342.2 181.5,342.2 182,342.2 182.5,342.2 183,342.2 183.5,342.2 184,342.2 184.5,342.2 185,342.2 185.5,342.2 186,342.2 186.5,342.2 187,342.2 187.5,342.2 188,342.2 188.5,342.2 189,342.2 189.5,342.2 190,342.2 190.5,342.2 191,342.2 191.5,342.2 192,342.2 192.5,342.2 193,342.2 193.5,342.2 194,342.2 194.5,342.2 195,342.2 195.5,342.2 196,342.2 196.5,342.2 197,342.2 197.5,342.2 198,342.2 198.5,342.2 199,342.2 199.5,342.2 200,342.2 200.5,342.2 201,342.2 201.5,342.2 202,342.2 202.5,342.2 203,342.2 203.5,342.2 204,342.2 204.5,342.2 205,342.2 205.5,342.2 206,342.2 206.5,342.2 207,342.2 207.5,342.2 208,342.2 208.5,342.2 209,342.2 209.5,342.2"/>
<polyline fill="none" stroke="#f39a22" stroke-width="1.15" stroke-linejoin="round"  points="40,342.2 40.5,342.2 41,342.2 41.5,342.2 42,342.2 42.5,342.2 43,342.2 43.5,342.2 44,342.2 44.5,342.2 45,342.2 45.5,342.2 46,342.2 46.5,342.2 47,342.2 47.5,342.2 48,342.2 48.5,342.2 49,342.2 49.5,342.2 50,342.2 50.5,342.2 51,342.2 51.5,342.2 52,342.2 52.5,342.2 53,342.2 53.5,342.2 54,342.2 54.5,342.2 55,342.2 55.5,342.2 56,342.2 56.5,342.2 57,342.2 57.5,342.2 58,342.2 58.5,342.2 59,342.2 59.5,342.2 60,342.2 60.5,342.2 61,342.2 61.5,342.2 62,342.2 62.5,342.2 63,342.2 63.5,342.2 64,342.2 64.5,342.2 65,342.2 65.5,342.19 66,342.19 66.5,342.19 67,342.19 67.5,342.19 68,342.19 68.5,342.19 69,342.18 69.5,342.18 70,342.18 70.5,342.17 71,342.17 71.5,342.17 72,342.16 72.5,342.15 73,342.15 73.5,342.14 74,342.13 74.5,342.12 75,342.1 75.5,342.09 76,342.07 76.5,342.06 77,342.03 77.5,342.01 78,341.98 78.5,341.95 79,341.92 79.5,341.88 80,341.83 80.5,341.79 81,341.73 81.5,341.67 82,341.6 82.5,341.52 83,341.43 83.5,341.34 84,341.23 84.5,341.11 85,340.98 85.5,340.84 86,340.68 86.5,340.5 87,340.31 87.5,340.09 88,339.86 88.5,339.6 89,339.32 89.5,339.01 90,338.67 90.5,338.31 91,337.91 91.5,337.48 92,337.02 92.5,336.51 93,335.97 93.5,335.38 94,334.75 94.5,334.07 95,333.34 95.5,332.56 96,331.73 96.5,330.84 97,329.89 97.5,328.88 98,327.81 98.5,326.68 99,325.48 99.5,324.21 100,322.87 100.5,321.47 101,319.99 101.5,318.44 102,316.82 102.5,315.13 103,313.36 103.5,311.52 104,309.61 104.5,307.64 105,305.59 105.5,303.48 106,301.3 106.5,299.06 107,296.76 107.5,294.41 108,292.01 108.5,289.56 109,287.07 109.5,284.55 110,281.99 110.5,279.41 111,276.81 111.5,274.2 112,271.58 112.5,268.97 113,266.37 113.5,263.79 114,261.23 114.5,258.71 115,256.23 115.5,253.8 116,251.44 116.5,249.14 117,246.92 117.5,244.78 118,242.73 118.5,240.79 119,238.95 119.5,237.23 120,235.63 120.5,234.16 121,232.82 121.5,231.63 122,230.57 122.5,229.67 123,228.92 123.5,228.33 124,227.89 124.5,227.62 125,227.5 125.5,227.55 126,227.75 126.5,228.12 127,228.63 127.5,229.3 128,230.12 128.5,231.08 129,232.19 129.5,233.43 130,234.81 130.5,236.32 131,237.95 131.5,239.69 132,241.54 132.5,243.5 133,245.55 133.5,247.69 134,249.9 134.5,252.19 135,254.54 135.5,256.95 136,259.41 136.5,261.9 137,264.43 137.5,266.98 138,269.54 138.5,272.12 139,274.69 139.5,277.26 140,279.82 140.5,282.36 141,284.87 141.5,287.36 142,289.81 142.5,292.22 143,294.58 143.5,296.89 144,299.15 144.5,301.36 145,303.5 145.5,305.58 146,307.6 146.5,309.55 147,311.43 147.5,313.24 148,314.99 148.5,316.66 149,318.27 149.5,319.8 150,321.27 150.5,322.66 151,323.99 151.5,325.25 152,326.45 152.5,327.58 153,328.64 153.5,329.65 154,330.6 154.5,331.49 155,332.33 155.5,333.11 156,333.85 156.5,334.53 157,335.17 157.5,335.76 158,336.31 158.5,336.82 159,337.3 159.5,337.74 160,338.14 160.5,338.51 161,338.86 161.5,339.17 162,339.46 162.5,339.73 163,339.97 163.5,340.19 164,340.39 164.5,340.58 165,340.75 165.5,340.9 166,341.03 166.5,341.16 167,341.27 167.5,341.37 168,341.46 168.5,341.55 169,341.62 169.5,341.69 170,341.75 170.5,341.8 171,341.85 171.5,341.89 172,341.93 172.5,341.96 173,341.99 173.5,342.01 174,342.04 174.5,342.06 175,342.08 175.5,342.09 176,342.11 176.5,342.12 177,342.13 177.5,342.14 178,342.15 178.5,342.15 179,342.16 179.5,342.17 180,342.17 180.5,342.17 181,342.18 181.5,342.18 182,342.18 182.5,342.19 183,342.19 183.5,342.19 184,342.19 184.5,342.19 185,342.19 185.5,342.19 186,342.2 186.5,342.2 187,342.2 187.5,342.2 188,342.2 188.5,342.2 189,342.2 189.5,342.2 190,342.2 190.5,342.2 191,342.2 191.5,342.2 192,342.2 192.5,342.2 193,342.2 193.5,342.2 194,342.2 194.5,342.2 195,342.2 195.5,342.2 196,342.2 196.5,342.2 197,342.2 197.5,342.2 198,342.2 198.5,342.2 199,342.2 199.5,342.2 200,342.2 200.5,342.2 201,342.2 201.5,342.2 202,342.2 202.5,342.2 203,342.2 203.5,342.2 204,342.2 204.5,342.2 205,342.2 205.5,342.2 206,342.2 206.5,342.2 207,342.2 207.5,342.2 208,342.2 208.5,342.2 209,342.2 209.5,342.2"/>
<polyline fill="none" stroke="#82302f" stroke-width="1.15" stroke-linejoin="round"  points="40,342.2 40.5,342.2 41,342.2 41.5,342.2 42,342.2 42.5,342.2 43,342.2 43.5,342.2 44,342.2 44.5,342.2 45,342.2 45.5,342.2 46,342.2 46.5,342.2 47,342.2 47.5,342.2 48,342.2 48.5,342.2 49,342.2 49.5,342.2 50,342.2 50.5,342.2 51,342.2 51.5,342.2 52,342.2 52.5,342.2 53,342.2 53.5,342.2 54,342.2 54.5,342.2 55,342.2 55.5,342.2 56,342.2 56.5,342.2 57,342.2 57.5,342.2 58,342.2 58.5,342.2 59,342.2 59.5,342.2 60,342.2 60.5,342.2 61,342.2 61.5,342.2 62,342.2 62.5,342.2 63,342.2 63.5,342.2 64,342.2 64.5,342.2 65,342.2 65.5,342.2 66,342.2 66.5,342.2 67,342.2 67.5,342.2 68,342.2 68.5,342.2 69,342.2 69.5,342.2 70,342.2 70.5,342.2 71,342.2 71.5,342.2 72,342.2 72.5,342.2 73,342.2 73.5,342.2 74,342.2 74.5,342.2 75,342.2 75.5,342.2 76,342.2 76.5,342.2 77,342.2 77.5,342.2 78,342.2 78.5,342.2 79,342.2 79.5,342.2 80,342.2 80.5,342.2 81,342.2 81.5,342.2 82,342.2 82.5,342.2 83,342.2 83.5,342.2 84,342.2 84.5,342.2 85,342.2 85.5,342.2 86,342.2 86.5,342.2 87,342.2 87.5,342.2 88,342.2 88.5,342.19 89,342.19 89.5,342.19 90,342.19 90.5,342.19 91,342.19 91.5,342.19 92,342.18 92.5,342.18 93,342.18 93.5,342.17 94,342.17 94.5,342.17 95,342.16 95.5,342.16 96,342.15 96.5,342.14 97,342.13 97.5,342.12 98,342.11 98.5,342.1 99,342.09 99.5,342.07 100,342.05 100.5,342.03 101,342.01 101.5,341.98 102,341.96 102.5,341.92 103,341.89 103.5,341.85 104,341.8 104.5,341.75 105,341.7 105.5,341.64 106,341.57 106.5,341.49 107,341.41 107.5,341.32 108,341.21 108.5,341.1 109,340.98 109.5,340.84 110,340.69 110.5,340.53 111,340.35 111.5,340.16 112,339.94 112.5,339.71 113,339.46 113.5,339.18 114,338.88 114.5,338.56 115,338.21 115.5,337.83 116,337.42 116.5,336.98 117,336.51 117.5,336 118,335.45 118.5,334.87 119,334.24 119.5,333.57 120,332.86 120.5,332.1 121,331.29 121.5,330.43 122,329.52 122.5,328.55 123,327.53 123.5,326.46 124,325.32 124.5,324.13 125,322.88 125.5,321.56 126,320.18 126.5,318.74 127,317.24 127.5,315.67 128,314.04 128.5,312.35 129,310.6 129.5,308.78 130,306.9 130.5,304.96 131,302.97 131.5,300.92 132,298.81 132.5,296.66 133,294.45 133.5,292.21 134,289.92 134.5,287.59 135,285.23 135.5,282.85 136,280.44 136.5,278.01 137,275.57 137.5,273.12 138,270.67 138.5,268.23 139,265.79 139.5,263.38 140,260.99 140.5,258.63 141,256.31 141.5,254.03 142,251.81 142.5,249.64 143,247.54 143.5,245.51 144,243.56 144.5,241.7 145,239.93 145.5,238.25 146,236.68 146.5,235.22 147,233.87 147.5,232.64 148,231.53 148.5,230.56 149,229.71 149.5,228.99 150,228.42 150.5,227.98 151,227.68 151.5,227.53 152,227.51 152.5,227.64 153,227.92 153.5,228.34 154,228.91 154.5,229.61 155,230.46 155.5,231.44 156,232.55 156.5,233.78 157,235.15 157.5,236.62 158,238.21 158.5,239.91 159,241.71 159.5,243.6 160,245.58 160.5,247.64 161,249.77 161.5,251.98 162,254.24 162.5,256.55 163,258.91 163.5,261.31 164,263.74 164.5,266.19 165,268.66 165.5,271.14 166,273.62 166.5,276.11 167,278.58 167.5,281.04 168,283.48 168.5,285.89 169,288.27 169.5,290.62 170,292.93 170.5,295.2 171,297.41 171.5,299.58 172,301.7 172.5,303.75 173,305.76 173.5,307.7 174,309.58 174.5,311.39 175,313.14 175.5,314.83 176,316.45 176.5,318.01 177,319.5 177.5,320.93 178,322.29 178.5,323.59 179,324.83 179.5,326 180,327.12 180.5,328.17 181,329.17 181.5,330.11 182,331 182.5,331.84 183,332.63 183.5,333.36 184,334.06 184.5,334.7 185,335.31 185.5,335.87 186,336.4 186.5,336.88 187,337.34 187.5,337.76 188,338.15 188.5,338.51 189,338.84 189.5,339.15 190,339.43 190.5,339.69 191,339.92 191.5,340.14 192,340.34 192.5,340.52 193,340.69 193.5,340.84 194,340.98 194.5,341.1 195,341.22 195.5,341.32 196,341.41 196.5,341.5 197,341.57 197.5,341.64 198,341.7 198.5,341.76 199,341.81 199.5,341.85 200,341.89 200.5,341.93 201,341.96 201.5,341.99 202,342.01 202.5,342.04 203,342.06 203.5,342.07 204,342.09 204.5,342.1 205,342.12 205.5,342.13 206,342.14 206.5,342.14 207,342.15 207.5,342.16 208,342.16 208.5,342.17 209,342.17 209.5,342.18"/>
<line x1="39.5" y1="205" x2="210" y2="205" stroke="#7a7a7a" stroke-width="1.0"/>
<line x1="210" y1="205" x2="210" y2="342.5" stroke="#7a7a7a" stroke-width="1.0"/>
<line x1="39.5" y1="342.5" x2="210" y2="342.5" stroke="#5a5a5a" stroke-width="1.0"/>
<line x1="39.5" y1="204.5" x2="39.5" y2="343" stroke="#5a5a5a" stroke-width="1.0"/>
<line x1="61.07" y1="342.5" x2="61.07" y2="339.5" stroke="#5a5a5a" stroke-width="1.0"/>
<text x="51.32" y="354.6" font-size="11.6" fill="#1a1a1a" >650</text>
<line x1="98.3" y1="342.5" x2="98.3" y2="339.5" stroke="#5a5a5a" stroke-width="1.0"/>
<text x="88.56" y="354.6" font-size="11.6" fill="#1a1a1a" >700</text>
<line x1="135.53" y1="342.5" x2="135.53" y2="339.5" stroke="#5a5a5a" stroke-width="1.0"/>
<text x="125.79" y="354.6" font-size="11.6" fill="#1a1a1a" >750</text>
<line x1="172.77" y1="342.5" x2="172.77" y2="339.5" stroke="#5a5a5a" stroke-width="1.0"/>
<text x="163.07" y="354.6" font-size="11.6" fill="#1a1a1a" >800</text>
<line x1="210" y1="342.5" x2="210" y2="339.5" stroke="#5a5a5a" stroke-width="1.0"/>
<text x="200.3" y="354.6" font-size="11.6" fill="#1a1a1a" >850</text>
<line x1="42.45" y1="342.5" x2="42.45" y2="340.5" stroke="#5a5a5a" stroke-width="1.0"/>
<line x1="79.68" y1="342.5" x2="79.68" y2="340.5" stroke="#5a5a5a" stroke-width="1.0"/>
<line x1="116.92" y1="342.5" x2="116.92" y2="340.5" stroke="#5a5a5a" stroke-width="1.0"/>
<line x1="154.15" y1="342.5" x2="154.15" y2="340.5" stroke="#5a5a5a" stroke-width="1.0"/>
<line x1="191.38" y1="342.5" x2="191.38" y2="340.5" stroke="#5a5a5a" stroke-width="1.0"/>
<text x="20.33" y="346.25" font-size="11.6" fill="#1a1a1a" >0.0</text>
<line x1="39.5" y1="319.26" x2="42.5" y2="319.26" stroke="#5a5a5a" stroke-width="1.0"/>
<text x="20.46" y="323.31" font-size="11.6" fill="#1a1a1a" >0.2</text>
<line x1="39.5" y1="296.32" x2="42.5" y2="296.32" stroke="#5a5a5a" stroke-width="1.0"/>
<text x="20.21" y="300.37" font-size="11.6" fill="#1a1a1a" >0.4</text>
<line x1="39.5" y1="273.38" x2="42.5" y2="273.38" stroke="#5a5a5a" stroke-width="1.0"/>
<text x="20.39" y="277.43" font-size="11.6" fill="#1a1a1a" >0.6</text>
<line x1="39.5" y1="250.44" x2="42.5" y2="250.44" stroke="#5a5a5a" stroke-width="1.0"/>
<text x="20.37" y="254.49" font-size="11.6" fill="#1a1a1a" >0.8</text>
<line x1="39.5" y1="227.5" x2="42.5" y2="227.5" stroke="#5a5a5a" stroke-width="1.0"/>
<text x="20.33" y="231.55" font-size="11.6" fill="#1a1a1a" >1.0</text>
<text x="20.46" y="208.61" font-size="11.6" fill="#1a1a1a" >1.2</text>
<text x="65.22" y="370.75" font-size="15.74" fill="#1a1a1a" >Wavelength (nm)</text>
<text transform="translate(11.6,299.57) rotate(-90)" font-size="15.43" fill="#1a1a1a">Norm. PL</text>
<line x1="262.2" y1="205" x2="262.2" y2="344" stroke="#777" stroke-width="1.0"/>
<line x1="262.2" y1="237.65" x2="263.7" y2="237.65" stroke="#333" stroke-width="0.7"/>
<line x1="262.2" y1="229.55" x2="263.7" y2="229.55" stroke="#333" stroke-width="0.7"/>
<line x1="262.2" y1="223.81" x2="263.7" y2="223.81" stroke="#333" stroke-width="0.7"/>
<line x1="262.2" y1="219.35" x2="263.7" y2="219.35" stroke="#333" stroke-width="0.7"/>
<line x1="262.2" y1="215.71" x2="263.7" y2="215.71" stroke="#333" stroke-width="0.7"/>
<line x1="262.2" y1="212.63" x2="263.7" y2="212.63" stroke="#333" stroke-width="0.7"/>
<line x1="262.2" y1="209.96" x2="263.7" y2="209.96" stroke="#333" stroke-width="0.7"/>
<line x1="262.2" y1="207.6" x2="263.7" y2="207.6" stroke="#333" stroke-width="0.7"/>
<line x1="262.2" y1="283.65" x2="263.7" y2="283.65" stroke="#333" stroke-width="0.7"/>
<line x1="262.2" y1="275.55" x2="263.7" y2="275.55" stroke="#333" stroke-width="0.7"/>
<line x1="262.2" y1="269.81" x2="263.7" y2="269.81" stroke="#333" stroke-width="0.7"/>
<line x1="262.2" y1="265.35" x2="263.7" y2="265.35" stroke="#333" stroke-width="0.7"/>
<line x1="262.2" y1="261.71" x2="263.7" y2="261.71" stroke="#333" stroke-width="0.7"/>
<line x1="262.2" y1="258.63" x2="263.7" y2="258.63" stroke="#333" stroke-width="0.7"/>
<line x1="262.2" y1="255.96" x2="263.7" y2="255.96" stroke="#333" stroke-width="0.7"/>
<line x1="262.2" y1="253.6" x2="263.7" y2="253.6" stroke="#333" stroke-width="0.7"/>
<line x1="262.2" y1="329.65" x2="263.7" y2="329.65" stroke="#333" stroke-width="0.7"/>
<line x1="262.2" y1="321.55" x2="263.7" y2="321.55" stroke="#333" stroke-width="0.7"/>
<line x1="262.2" y1="315.81" x2="263.7" y2="315.81" stroke="#333" stroke-width="0.7"/>
<line x1="262.2" y1="311.35" x2="263.7" y2="311.35" stroke="#333" stroke-width="0.7"/>
<line x1="262.2" y1="307.71" x2="263.7" y2="307.71" stroke="#333" stroke-width="0.7"/>
<line x1="262.2" y1="304.63" x2="263.7" y2="304.63" stroke="#333" stroke-width="0.7"/>
<line x1="262.2" y1="301.96" x2="263.7" y2="301.96" stroke="#333" stroke-width="0.7"/>
<line x1="262.2" y1="299.6" x2="263.7" y2="299.6" stroke="#333" stroke-width="0.7"/>
<clipPath id="cd"><rect x="261" y="205.5" width="171.5" height="138"/></clipPath>
<g clip-path="url(#cd)">
<polyline fill="none" stroke="#129612" stroke-width="0.9" stroke-linejoin="round"  points="262.3,205.5 262.44,209.76 262.57,213.62 262.71,217.43 262.84,222.46 262.98,224.89 263.12,228.45 263.25,231.02 263.39,233.62 263.53,237.54 263.66,241.39 263.8,241.37 263.93,242.23 264.07,244.89 264.21,246.92 264.34,246.46 264.48,251.82 264.61,250.48 264.75,253.61 264.89,253.68 265.02,254.73 265.16,254.2 265.3,258.74 265.43,258.92 265.57,262.11 265.7,259.04 265.84,261.51 265.98,260.82 266.11,264.66 266.25,263.84 266.38,262.4 266.52,265 266.66,264.47 266.79,265.34 266.93,267.75 267.07,271.7 267.2,266.8 267.34,268.73 267.47,268.15 267.61,276.1 267.75,275.84 267.88,278.02 268.02,274.98 268.15,271.22 268.29,272.65 268.43,274.35 268.56,274.62 268.7,274.07 268.84,277.04 268.97,275.88 269.11,276.92 269.24,285.29 269.38,279.64 269.52,276.15 269.65,280.79 269.79,280.4 269.92,282.63 270.06,282.71 270.2,279.01 270.33,282.89 270.47,286.32 270.61,295.07 270.74,285.54 270.88,291.65 271.01,291.6 271.15,282.75 271.29,283.35 271.42,293.52 271.56,283.8 271.7,285.11 271.83,290.03 271.97,285.19 272.1,294.62 272.24,293.16 272.38,294.64 272.51,293.56 272.65,286.55 272.78,295.38 272.92,294.92 273.06,294.35 273.19,289.62 273.33,292.11 273.47,288.44 273.6,294.59 273.74,297.79 273.87,294.21 274.01,291.88 274.15,297.01 274.28,291.76 274.42,287.62 274.55,296.15 274.69,293.25 274.83,289.68 274.96,297.38 275.1,298.73 275.24,300.34 275.37,293.46 275.51,293.35 275.64,296 275.78,295.26 275.92,291.68 276.05,293.15 276.19,304.04 276.32,296.41 276.46,296.19 276.6,294.44 276.73,298.31 276.87,300.98 277.01,300.12 277.14,308.11 277.28,298 277.41,301.6 277.55,296.62 277.69,304.62 277.82,301.27 277.96,304.78 278.09,305.53 278.23,296.72 278.37,302.25 278.5,297.93 278.64,306.72 278.78,299.47 278.91,310.72 279.05,303.28 279.18,303.62 279.32,298.41 279.46,300 279.59,302.04 279.73,297.94 279.86,343.91 280,299.31 280.14,298.62 280.27,302.12 280.41,303.78 280.55,300.65 280.68,304.9 280.82,300.69 280.95,298.14 281.09,299.21 281.23,305.26 281.36,311.55 281.5,303.33 281.63,303.94 281.77,298.84 281.91,305.97 282.04,304.9 282.18,300.6 282.32,307.03 282.45,304.94 282.59,297.11 282.72,298.08 282.86,301.55 283,303.08 283.13,311.3 283.27,302.15 283.4,304.24 283.54,303.7 283.68,308.57 283.81,305.03 283.95,306.38 284.09,303.72 284.22,299.3 284.36,303.72 284.49,317.62 284.63,312.69 284.77,317.34 284.9,311.61 285.04,303.36 285.17,304.1 285.31,310.48 285.45,304.83 285.58,311.87 285.72,316.97 285.86,316.98 285.99,312.95 286.13,300.38 286.26,316.82 286.4,301.26 286.54,300.97 286.67,308.26 286.81,307.32 286.94,311.74 287.08,307.29 287.22,304.17 287.35,307.18 287.49,302.84 287.63,302.08 287.76,342.56 287.9,305.94 288.03,369.58 288.17,305.99 288.31,316.52 288.44,305.86 288.58,306.8 288.72,314.78 288.85,298.33 288.99,315.81 289.12,315.06 289.26,343.61 289.4,323.76 289.53,314.66 289.67,320.62 289.8,316.21 289.94,309.56 290.08,306.93 290.21,337.39 290.35,304.84 290.49,303.18 290.62,305.92 290.76,312.64 290.89,303.62 291.03,312.92 291.17,314 291.3,301.86 291.44,305.28 291.57,307.92 291.71,305.53 291.85,304.99 291.98,320.52 292.12,352.83 292.26,319.13 292.39,308.63 292.53,315.02 292.66,303 292.8,306.92 292.94,369.81 293.07,309.76 293.21,319.79 293.34,309.35 293.48,306.97 293.62,308.33 293.75,326.03 293.89,312.67 294.03,307.29 294.16,308.27 294.3,304.3 294.43,320.86 294.57,307.35 294.71,315.58 294.84,308.96 294.98,308 295.11,306.7 295.25,315.1 295.39,309.13 295.52,320.22 295.66,322.33 295.8,307.46 295.93,310.81 296.07,324.24 296.2,317.69 296.34,310.27 296.48,371.16 296.61,305.28 296.75,306.48 296.88,325.92 297.02,311.41 297.16,308.09 297.29,308.51 297.43,308.42 297.57,312.69 297.7,302.02 297.84,303.39 297.97,311.55 298.11,319.26 298.25,300.66 298.38,315.61 298.52,304.82 298.65,301.4 298.79,319.09 298.93,309.26 299.06,313.94 299.2,308.21 299.34,309.17 299.47,301.3 299.61,307.9 299.74,311.09 299.88,305.33 300.02,313.43 300.15,314.27 300.29,299.95 300.42,318.3 300.56,315.41 300.7,310.75 300.83,320.44 300.97,329.71 301.11,305.8 301.24,318.11 301.38,315.98 301.51,314.51 301.65,319.9 301.79,320.74 301.92,356.26 302.06,299.3 302.19,307.46 302.33,307.42 302.47,324.64 302.6,311.56 302.74,321.83 302.88,307.34 303.01,313.4 303.15,311.06 303.28,312.19 303.42,316.6 303.56,324.93 303.69,308.36 303.83,323.74 303.96,321.96 304.1,314.12 304.24,317.77 304.37,309.98 304.51,306.29 304.65,348.05 304.78,310.33 304.92,311.34 305.05,307.07 305.19,328.01 305.33,309.52 305.46,319.9 305.6,322.59 305.74,311.56 305.87,315.07 306.01,308.49 306.14,305.93 306.28,332.41 306.42,312.29 306.55,364.52 306.69,307.12 306.82,304.25 306.96,310.94 307.1,324.53 307.23,321.76 307.37,307.93 307.51,306.7 307.64,318.27 307.78,314.13 307.91,310.19 308.05,327.42 308.19,314.88 308.32,303.45 308.46,300.63 308.59,312.73 308.73,302.4 308.87,316.49 309,319.05 309.14,331.88 309.28,306.78 309.41,315.16 309.55,299.89 309.68,309.92 309.82,310.64 309.96,328.05 310.09,304.1 310.23,315.09 310.36,313.28 310.5,331.68 310.64,306.98 310.77,306.67 310.91,317.3 311.05,311.15 311.18,309.66 311.32,306.81 311.45,311.11 311.59,303.01 311.73,314.05 311.86,317.33 312,316.08 312.13,356.21 312.27,319.15 312.41,306.61 312.54,310.33 312.68,368.34 312.82,368.83 312.95,330.1 313.09,362.83 313.22,309.04 313.36,308.18 313.5,375.26 313.63,307.11 313.77,302.31 313.9,315.76 314.04,307.97 314.18,325.97 314.31,329.63 314.45,308.62 314.59,311.53 314.72,310.7 314.86,317.18 314.99,314.57 315.13,307.64 315.27,303.08 315.4,313.88 315.54,326.84 315.67,305.31 315.81,308.69 315.95,308.29 316.08,310.81 316.22,300.05 316.36,311.35 316.49,309.14 316.63,328.7 316.76,360.47 316.9,318.15 317.04,312.21 317.17,309.99 317.31,318.73 317.44,303.04 317.58,321.59 317.72,375.46 317.85,310.55 317.99,323.28 318.13,308.88 318.26,308.57 318.4,314.61 318.53,302.15 318.67,311.35 318.81,310.35 318.94,320.67 319.08,327.14 319.21,317.69 319.35,314.89 319.49,316.1 319.62,307.9 319.76,333.61 319.9,360.68 320.03,340.78 320.17,305.02 320.3,317.11 320.44,316.65 320.58,321.98 320.71,307.25 320.85,315.72 320.98,310.67 321.12,330.44 321.26,305.89 321.39,309.8 321.53,309.01 321.67,305.56 321.8,313.75 321.94,313.51 322.07,308.17 322.21,309.64 322.35,314.22 322.48,311.59 322.62,316.57 322.76,308.19 322.89,307.09 323.03,311.95 323.16,302.32 323.3,325.96 323.44,314.11 323.57,303.16 323.71,315.82 323.84,326.53 323.98,304.75 324.12,309.05 324.25,322.85 324.39,307.89 324.53,321.29 324.66,324.18 324.8,313.38 324.93,316.37 325.07,321.98 325.21,315.32 325.34,321.13 325.48,311.5 325.61,312.21 325.75,308.04 325.89,316.13 326.02,324.11 326.16,324 326.3,314.24 326.43,304.05 326.57,307.52 326.7,317.83 326.84,307.05 326.98,322.55 327.11,306.69 327.25,315.49 327.38,307.93 327.52,308.67 327.66,314.53 327.79,310.16 327.93,321.71 328.07,312.68 328.2,306.34 328.34,291.09 328.47,308.26 328.61,311.37 328.75,321.22 328.88,306.46 329.02,327.08 329.15,319.31 329.29,310 329.43,322.98 329.56,304.03 329.7,306.29 329.84,317.18 329.97,317.06 330.11,324.02 330.24,324.76 330.38,309.58 330.52,308.66 330.65,310.04 330.79,310.48 330.92,317.11 331.06,310 331.2,325.42 331.33,311.93 331.47,304.36 331.61,305.13 331.74,316.23 331.88,315.05 332.01,304.85 332.15,302.77 332.29,325.65 332.42,315.9 332.56,310.64 332.69,305.65 332.83,319.65 332.97,359.67 333.1,314.75 333.24,299.79 333.38,309.65 333.51,313.24 333.65,315.06 333.78,306.48 333.92,308.38 334.06,321.88 334.19,310.72 334.33,324.22 334.46,318.9 334.6,323.81 334.74,324.1 334.87,318.27 335.01,320.95 335.15,309.15 335.28,307.79 335.42,314.19 335.55,322.21 335.69,307.75 335.83,330.47 335.96,329.62 336.1,308.14 336.23,308.5 336.37,306.89 336.51,313.97 336.64,323.51 336.78,316.65 336.92,308.95 337.05,319 337.19,318.41 337.32,324.73 337.46,322.62 337.6,307.55 337.73,309.52 337.87,322.61 338,321.86 338.14,317.14 338.28,309.05 338.41,322.67 338.55,313.55 338.69,331.58 338.82,323.48 338.96,309.7 339.09,366.12 339.23,322.56 339.37,319.07 339.5,307.78 339.64,315.57 339.78,316.95 339.91,309.2 340.05,310.83 340.18,306.19 340.32,307.8 340.46,317.26 340.59,313.09 340.73,350.3 340.86,324.38 341,320.88 341.14,306.9 341.27,326.48 341.41,306.78 341.55,310.38 341.68,313.27 341.82,309.1 341.95,338.58 342.09,305.7 342.23,315.65 342.36,314.08 342.5,314.24 342.63,302.28 342.77,307.03 342.91,320.42 343.04,315.03 343.18,318.42 343.32,311.86 343.45,310.73 343.59,300.2 343.72,328.62 343.86,306.6 344,309.6 344.13,318.38 344.27,313.34 344.4,316.49 344.54,311.55 344.68,347.03 344.81,325.81 344.95,305.15 345.09,315.37 345.22,304.19 345.36,309.71 345.49,305.55 345.63,308.93 345.77,366.76 345.9,311.51 346.04,319.52 346.17,308.39 346.31,308.19 346.45,301.16 346.58,330.19 346.72,313.73 346.86,306.41 346.99,323.34 347.13,314 347.26,301.06 347.4,340.42 347.54,319.93 347.67,304.56 347.81,305.78 347.94,307.84 348.08,331.41 348.22,310.57 348.35,319.82 348.49,316.6 348.63,308.06 348.76,311.05 348.9,302.41 349.03,314.93 349.17,333.74 349.31,314.93 349.44,310.36 349.58,309.82 349.71,311.41 349.85,319.36 349.99,304.2 350.12,317.91 350.26,308.16 350.4,314.48 350.53,322.76 350.67,304.6 350.8,334.69 350.94,319.6 351.08,309.56 351.21,315.09 351.35,307.95 351.48,312.75 351.62,315.96 351.76,300.81 351.89,313.83 352.03,313.26 352.17,321.67 352.3,318.62 352.44,308.44 352.57,308.88 352.71,311.8 352.85,318.18 352.98,308.25 353.12,327.29 353.25,314.9 353.39,314.09 353.53,319.48 353.66,371.23 353.8,317.85 353.94,319.08 354.07,302.6 354.21,307.95 354.34,305.63 354.48,311.43 354.62,306.81 354.75,307.74 354.89,305.55 355.02,299.72 355.16,313.78 355.3,310.36 355.43,312.18 355.57,343.66 355.71,324.4 355.84,311.56 355.98,308.46 356.11,316.92 356.25,305.92 356.39,305.17 356.52,315.43 356.66,304.45 356.8,302.8 356.93,309.29 357.07,320.58 357.2,304.22 357.34,375.49 357.48,315.07 357.61,311.04 357.75,316.52 357.88,306.21 358.02,307.69 358.16,305.46 358.29,308.68 358.43,318.83 358.57,313.06 358.7,307.19 358.84,315.31 358.97,296.87 359.11,313.81 359.25,316.94 359.38,305.81 359.52,307.84 359.65,311.86 359.79,313.7 359.93,309.46 360.06,307.39 360.2,307.76 360.34,314.35 360.47,309.43 360.61,307.35 360.74,307.75 360.88,339.66 361.02,319.7 361.15,318.66 361.29,313.7 361.42,310.71 361.56,306.96 361.7,308.49 361.83,370.77 361.97,311.49 362.11,302.73 362.24,317.18 362.38,310.07 362.51,303.71 362.65,309.86 362.79,330.18 362.92,309.72 363.06,315.13 363.19,312.64 363.33,306.3 363.47,309.24 363.6,314.01 363.74,307.11 363.88,309.41 364.01,311.08 364.15,310.09 364.28,310.33 364.42,314.7 364.56,315.78 364.69,311.48 364.83,320.28 364.96,323.05 365.1,305.04 365.24,313.79 365.37,311.83 365.51,312.84 365.65,311.49 365.78,311.5 365.92,367.66 366.05,318.93 366.19,364.38 366.33,317.9 366.46,356.2 366.6,329.05 366.73,321.26 366.87,360.81 367.01,312.96 367.14,317.71 367.28,309.72 367.42,321.11 367.55,311.22 367.69,331.74 367.82,315.72 367.96,317.52 368.1,308.89 368.23,307.19 368.37,319.38 368.5,303.49 368.64,316.99 368.78,330.3 368.91,333.24 369.05,303.84 369.19,312.41 369.32,317.49 369.46,318.41 369.59,321.54 369.73,304.78 369.87,312.37 370,302.57 370.14,313.42 370.27,332.97 370.41,307.35 370.55,314.96 370.68,313.77 370.82,303.7 370.96,314.01 371.09,305.74 371.23,311.66 371.36,318.45 371.5,309.05 371.64,317.07 371.77,305.41 371.91,306.76 372.04,311.29 372.18,308.53 372.32,308.76 372.45,314.12 372.59,307.09 372.73,313.68 372.86,308.5 373,320.25 373.13,311.1 373.27,309.51 373.41,318.78 373.54,315.38 373.68,316.44 373.82,307.92 373.95,318.13 374.09,309.38 374.22,303.89 374.36,309.79 374.5,326.22 374.63,310.95 374.77,306.33 374.9,314.16 375.04,305.98 375.18,308.46 375.31,309.45 375.45,313.92 375.59,316.2 375.72,313.87 375.86,311.25 375.99,308.93 376.13,365.15 376.27,314.26 376.4,311.23 376.54,309.6 376.67,326.28 376.81,345.97 376.95,318.77 377.08,313.36 377.22,314 377.36,313.84 377.49,319.43 377.63,308.15 377.76,310.14 377.9,340.31 378.04,311.47 378.17,321.72 378.31,302.94 378.44,315.62 378.58,315.05 378.72,311.11 378.85,313.29 378.99,312 379.13,303.72 379.26,310.39 379.4,307.31 379.53,305.84 379.67,320.32 379.81,303 379.94,308.05 380.08,362.74 380.21,319.3 380.35,307.4 380.49,309.43 380.62,316.33 380.76,299.99 380.9,358.59 381.03,313.62 381.17,310.54 381.3,306.92 381.44,305.81 381.58,308.58 381.71,305.37 381.85,304.09 381.98,322.66 382.12,315.85 382.26,319.97 382.39,376.35 382.53,304.23 382.67,308.21 382.8,320.94 382.94,314.1 383.07,306.32 383.21,316.26 383.35,312.31 383.48,309.97 383.62,327.98 383.75,307.57 383.89,309.78 384.03,349.92 384.16,320.32 384.3,318.41 384.44,316.85 384.57,310.25 384.71,311.16 384.84,310.87 384.98,302.46 385.12,304.92 385.25,317.96 385.39,317.37 385.52,302.85 385.66,314.31 385.8,349.9 385.93,303.44 386.07,316.36 386.21,313.88 386.34,311.09 386.48,319.28 386.61,320.32 386.75,315.08 386.89,307.21 387.02,315.5 387.16,313.3 387.29,315.66 387.43,323.83 387.57,304.02 387.7,332.72 387.84,317.37 387.98,336.49 388.11,324.12 388.25,308.46 388.38,305.19 388.52,319.24 388.66,310.46 388.79,321.52 388.93,308.95 389.06,311.07 389.2,310.42 389.34,304.62 389.47,309.13 389.61,304.72 389.75,308.31 389.88,322.34 390.02,310.19 390.15,309.04 390.29,324.57 390.43,304.78 390.56,311.17 390.7,309.66 390.84,319.58 390.97,311.15 391.11,310 391.24,314.4 391.38,311.11 391.52,330.7 391.65,304.64 391.79,321.56 391.92,331.27 392.06,320.17 392.2,319.03 392.33,308.77 392.47,319.75 392.61,310.08 392.74,320.16 392.88,300.37 393.01,308.77 393.15,301.64 393.29,320.67 393.42,308.17 393.56,320.14 393.69,308.6 393.83,308.1 393.97,325.94 394.1,321.78 394.24,322.06 394.38,325.13 394.51,318.11 394.65,320.19 394.78,324.6 394.92,331.57 395.06,308.78 395.19,323.42 395.33,316.54 395.46,311.5 395.6,313.59 395.74,317.85 395.87,307.45 396.01,307.27 396.15,308.11 396.28,313.39 396.42,301.52 396.55,302.76 396.69,315.16 396.83,312.6 396.96,305.55 397.1,318.77 397.23,309.54 397.37,311.32 397.51,317.9 397.64,313.62 397.78,325.8 397.92,316.45 398.05,329.65 398.19,300.05 398.32,303.96 398.46,337.28 398.6,310.04 398.73,306.53 398.87,305.14 399,306.44 399.14,306.93 399.28,319.83 399.41,309.41 399.55,316.41 399.69,322.28 399.82,321.93 399.96,309.42 400.09,306.27 400.23,323.99 400.37,302.77 400.5,304.17 400.64,315.03 400.77,358.06 400.91,312.24 401.05,306.64 401.18,315.06 401.32,321.64 401.46,309.86 401.59,330.36 401.73,310.89 401.86,375.13 402,310.06 402.14,307.67 402.27,309.11 402.41,307.93 402.54,310.88 402.68,319.15 402.82,313.65 402.95,312.28 403.09,305.26 403.23,303.4 403.36,309.49 403.5,318.45 403.63,318.24 403.77,313.32 403.91,304.6 404.04,309.92 404.18,312.11 404.31,318.56 404.45,307.16 404.59,310.15 404.72,312.07 404.86,311.09 405,303.1 405.13,313.07 405.27,303.09 405.4,305.34 405.54,311.35 405.68,307.15 405.81,312.74 405.95,319.14 406.08,314.05 406.22,319.86 406.36,309.03 406.49,311.54 406.63,308.74 406.77,307.44 406.9,339.97 407.04,310.04 407.17,327.99 407.31,310.77 407.45,319.59 407.58,336.09 407.72,304.72 407.86,327.13 407.99,310.65 408.13,312.32 408.26,328.81 408.4,308.34 408.54,311.44 408.67,316.24 408.81,318.17 408.94,295.39 409.08,315.19 409.22,327.97 409.35,320.07 409.49,314.94 409.63,338.24 409.76,312.33 409.9,321.13 410.03,308.88 410.17,316.01 410.31,323.98 410.44,319.02 410.58,315.11 410.71,307.33 410.85,309.17 410.99,314.68 411.12,311.51 411.26,310.53 411.4,301.32 411.53,317.22 411.67,309.25 411.8,307.94 411.94,320.27 412.08,310.66 412.21,310.79 412.35,315.88 412.48,308.75 412.62,306.42 412.76,305.91 412.89,313.35 413.03,310.65 413.17,299.74 413.3,321.64 413.44,362.19 413.57,307.12 413.71,310.85 413.85,308.3 413.98,310.74 414.12,307.81 414.25,305.14 414.39,313.62 414.53,310.61 414.66,312.11 414.8,315.28 414.94,311.79 415.07,321.9 415.21,307.85 415.34,303.02 415.48,303.01"/>
<polyline fill="none" stroke="#8a0b0b" stroke-width="0.9" stroke-linejoin="round"  points="262.3,205.5 262.44,219.31 262.57,225.07 262.71,228.77 262.84,230.27 262.98,231.78 263.12,231.9 263.25,235.33 263.39,233.56 263.53,236 263.66,237.27 263.8,237.07 263.93,237.31 264.07,238.62 264.21,238.7 264.34,240.12 264.48,239.74 264.61,240.25 264.75,241.96 264.89,240.98 265.02,242.56 265.16,243.01 265.3,244.56 265.43,244.1 265.57,243.3 265.7,245.95 265.84,243.93 265.98,244.45 266.11,244.72 266.25,248.01 266.38,245.51 266.52,244.9 266.66,246.69 266.79,245.77 266.93,249.1 267.07,245.46 267.2,247.13 267.34,245.5 267.47,248.94 267.61,245.91 267.75,247.04 267.88,246 268.02,248.16 268.15,247.85 268.29,244.81 268.43,248.33 268.56,248.26 268.7,247.77 268.84,248.87 268.97,246.33 269.11,245.85 269.24,248.7 269.38,250.18 269.52,246.67 269.65,246.82 269.79,247.2 269.92,246.93 270.06,249.43 270.2,248.54 270.33,250.31 270.47,250.44 270.61,247.5 270.74,249.56 270.88,246.25 271.01,248.7 271.15,249.76 271.29,248.07 271.42,247.06 271.56,248.56 271.7,250.89 271.83,248.84 271.97,247.82 272.1,250.1 272.24,250.57 272.38,248.44 272.51,249.47 272.65,251.28 272.78,250.32 272.92,250.94 273.06,249.6 273.19,249.89 273.33,248.81 273.47,249.37 273.6,252.51 273.74,249.86 273.87,249.38 274.01,249.95 274.15,249.38 274.28,251.42 274.42,252.09 274.55,249.72 274.69,252.41 274.83,254.11 274.96,249.83 275.1,252.15 275.24,251.6 275.37,253.3 275.51,253.28 275.64,253.1 275.78,251.99 275.92,251.1 276.05,255.05 276.19,250.81 276.32,253.54 276.46,253.44 276.6,251.12 276.73,252.1 276.87,254.39 277.01,249.97 277.14,253.52 277.28,251.99 277.41,252.13 277.55,250.77 277.69,253.21 277.82,251.39 277.96,253.81 278.09,251.4 278.23,254 278.37,253.45 278.5,250.7 278.64,252.66 278.78,252.98 278.91,250.5 279.05,252.83 279.18,254.62 279.32,252.53 279.46,255.35 279.59,252.2 279.73,252.18 279.86,254.63 280,254.79 280.14,253.65 280.27,253.93 280.41,255.58 280.55,253.4 280.68,257.44 280.82,254.94 280.95,254.97 281.09,254.84 281.23,254.09 281.36,256.53 281.5,253.89 281.63,254.99 281.77,255.83 281.91,257.08 282.04,256.86 282.18,254.55 282.32,256.65 282.45,255.07 282.59,253.88 282.72,253.99 282.86,253.39 283,255.94 283.13,257.32 283.27,254.3 283.4,255.28 283.54,254.31 283.68,255.81 283.81,254.36 283.95,254.89 284.09,255.13 284.22,255.47 284.36,255.69 284.49,255.97 284.63,256.06 284.77,255.13 284.9,257.37 285.04,254.3 285.17,256.83 285.31,255.43 285.45,256.95 285.58,257.3 285.72,254.26 285.86,257.56 285.99,259.3 286.13,258.41 286.26,257.8 286.4,254.45 286.54,257.12 286.67,256.22 286.81,259.29 286.94,257.15 287.08,256.79 287.22,255.34 287.35,259.07 287.49,257.1 287.63,257.59 287.76,259.88 287.9,258.18 288.03,258.69 288.17,262.43 288.31,257.55 288.44,257.7 288.58,259.3 288.72,260.99 288.85,256.62 288.99,258.37 289.12,257.41 289.26,256.93 289.4,259.91 289.53,257.91 289.67,259.55 289.8,259.3 289.94,259.42 290.08,259.34 290.21,257.84 290.35,259.31 290.49,259.84 290.62,260.14 290.76,259.22 290.89,261.43 291.03,260.78 291.17,260.03 291.3,261.05 291.44,260.3 291.57,261.29 291.71,257.35 291.85,258.39 291.98,259.73 292.12,260.55 292.26,257.36 292.39,260.13 292.53,260.83 292.66,260.3 292.8,260.37 292.94,258.83 293.07,261 293.21,257.97 293.34,262.8 293.48,260.17 293.62,263.18 293.75,258.65 293.89,262.04 294.03,261.6 294.16,260.19 294.3,259.76 294.43,263.86 294.57,262.45 294.71,264.56 294.84,261.72 294.98,262.2 295.11,262.75 295.25,263.49 295.39,262.98 295.52,263.76 295.66,261.57 295.8,260.14 295.93,266.33 296.07,262.82 296.2,263.49 296.34,261.98 296.48,264.7 296.61,263.17 296.75,265.03 296.88,261.96 297.02,262.95 297.16,263.5 297.29,262.67 297.43,263.82 297.57,266.53 297.7,262.54 297.84,263.09 297.97,263.93 298.11,262.15 298.25,261.85 298.38,266.07 298.52,265.51 298.65,261.54 298.79,261.81 298.93,265.65 299.06,266.63 299.2,265.59 299.34,265.38 299.47,267.7 299.61,264.44 299.74,267.23 299.88,267.16 300.02,263.24 300.15,266.21 300.29,265.01 300.42,263.91 300.56,263.68 300.7,265.78 300.83,265.08 300.97,266.97 301.11,262.44 301.24,264.3 301.38,267.78 301.51,265.5 301.65,264.41 301.79,264.87 301.92,262.71 302.06,263.53 302.19,267.03 302.33,266.14 302.47,268.78 302.6,265.68 302.74,265.91 302.88,261.72 303.01,266.14 303.15,270.94 303.28,267.92 303.42,266.34 303.56,269.35 303.69,268.57 303.83,267.55 303.96,266.23 304.1,267.25 304.24,268.92 304.37,265.69 304.51,268.3 304.65,268.28 304.78,270.32 304.92,269.07 305.05,266.27 305.19,271.08 305.33,267.69 305.46,266.37 305.6,268.53 305.74,267.33 305.87,270.35 306.01,265.61 306.14,266.05 306.28,267.63 306.42,272.1 306.55,270.57 306.69,266.54 306.82,265.31 306.96,267.87 307.1,266.26 307.23,269.94 307.37,269.05 307.51,268.68 307.64,268 307.78,272.37 307.91,267.22 308.05,266.6 308.19,271.72 308.32,272.27 308.46,268.55 308.59,270.79 308.73,274.89 308.87,267.93 309,269.19 309.14,270.66 309.28,265.77 309.41,269.43 309.55,271.54 309.68,269.64 309.82,272.37 309.96,271.78 310.09,269.33 310.23,271.43 310.36,271.26 310.5,267.17 310.64,268.73 310.77,268.9 310.91,269.48 311.05,269.63 311.18,267.89 311.32,270.72 311.45,267.27 311.59,273.14 311.73,271.51 311.86,274.33 312,271.87 312.13,270.12 312.27,268.43 312.41,272.87 312.54,271.3 312.68,272.27 312.82,273.28 312.95,274.47 313.09,271.48 313.22,275.98 313.36,271.52 313.5,271.76 313.63,273.52 313.77,274.48 313.9,275.49 314.04,268.46 314.18,275.54 314.31,269.2 314.45,271.13 314.59,273.29 314.72,275.37 314.86,270.47 314.99,269.19 315.13,275.03 315.27,273.48 315.4,270.71 315.54,272.19 315.67,268.97 315.81,274.46 315.95,271.99 316.08,276.37 316.22,269.03 316.36,275.17 316.49,279.08 316.63,273.74 316.76,273.85 316.9,269.71 317.04,274.51 317.17,273.72 317.31,272.56 317.44,270.62 317.58,274.07 317.72,271.86 317.85,272.99 317.99,274.89 318.13,274.02 318.26,274.19 318.4,276.75 318.53,271.9 318.67,278.16 318.81,272.11 318.94,272.62 319.08,274.91 319.21,276.79 319.35,275.41 319.49,273.89 319.62,273.39 319.76,274.41 319.9,273 320.03,276.66 320.17,274.72 320.3,279.56 320.44,273.74 320.58,275.1 320.71,276.63 320.85,273.1 320.98,274.16 321.12,283.45 321.26,275.68 321.39,279.85 321.53,273.62 321.67,270.65 321.8,277.48 321.94,275.94 322.07,276.87 322.21,275.48 322.35,274.92 322.48,273.6 322.62,279.22 322.76,273.11 322.89,279.2 323.03,276.05 323.16,274.19 323.3,275.23 323.44,279.51 323.57,278.91 323.71,278.3 323.84,277.2 323.98,274.6 324.12,280.89 324.25,276.23 324.39,275.98 324.53,276.16 324.66,276.43 324.8,274.16 324.93,276.51 325.07,275.75 325.21,276.47 325.34,273.79 325.48,283.4 325.61,275.05 325.75,278.76 325.89,278.89 326.02,280.98 326.16,283.69 326.3,279.39 326.43,280.36 326.57,277.28 326.7,282.82 326.84,275.27 326.98,277.98 327.11,279.41 327.25,280.85 327.38,281.15 327.52,282.24 327.66,280.56 327.79,278.99 327.93,279.6 328.07,283.39 328.2,280 328.34,281.96 328.47,278.96 328.61,275.06 328.75,278.01 328.88,280.48 329.02,284.54 329.15,283.98 329.29,284.88 329.43,278.09 329.56,282.21 329.7,279.78 329.84,281.91 329.97,279.85 330.11,276.8 330.24,282.31 330.38,281.31 330.52,282.82 330.65,278.3 330.79,283.65 330.92,284.05 331.06,284.92 331.2,285.06 331.33,279.59 331.47,274.59 331.61,283.98 331.74,278.61 331.88,280.37 332.01,284.52 332.15,281.99 332.29,281.91 332.42,283.43 332.56,276.59 332.69,287.44 332.83,280.5 332.97,280.69 333.1,283.42 333.24,281.26 333.38,279.53 333.51,281.38 333.65,280.79 333.78,280.17 333.92,288.52 334.06,278.34 334.19,276.4 334.33,279.7 334.46,279.68 334.6,286.86 334.74,282.73 334.87,285.06 335.01,284.39 335.15,280.1 335.28,285.24 335.42,283.09 335.55,289.02 335.69,283.31 335.83,282.63 335.96,285.25 336.1,285.37 336.23,278.23 336.37,287.14 336.51,286.68 336.64,285.94 336.78,280.22 336.92,277.95 337.05,282.57 337.19,285.9 337.32,285 337.46,280.86 337.6,286.76 337.73,279.97 337.87,280.12 338,283.69 338.14,282.25 338.28,282.04 338.41,279.99 338.55,287.71 338.69,281.08 338.82,285.54 338.96,286.95 339.09,284.11 339.23,285.18 339.37,287.91 339.5,290.08 339.64,287.88 339.78,280.82 339.91,279.52 340.05,283.08 340.18,281.7 340.32,286.74 340.46,285.27 340.59,284.3 340.73,288.91 340.86,288.66 341,284.99 341.14,286.44 341.27,289.12 341.41,284.39 341.55,286.43 341.68,282.78 341.82,285.64 341.95,286.75 342.09,285.4 342.23,286.42 342.36,288.25 342.5,287.37 342.63,283.93 342.77,284.27 342.91,282.56 343.04,292.26 343.18,287.65 343.32,287.79 343.45,285.88 343.59,288.06 343.72,288.34 343.86,284.36 344,286.11 344.13,290.91 344.27,282.98 344.4,283.99 344.54,288.95 344.68,284.56 344.81,289.67 344.95,283.85 345.09,287.89 345.22,290.11 345.36,288.59 345.49,290.1 345.63,286.78 345.77,286.89 345.9,287.35 346.04,289.58 346.17,301.21 346.31,287.36 346.45,294.78 346.58,287.05 346.72,284.55 346.86,287.08 346.99,289.39 347.13,288.67 347.26,288.55 347.4,290.18 347.54,290.38 347.67,291.73 347.81,284.82 347.94,288.4 348.08,285.6 348.22,289.42 348.35,288.31 348.49,289.23 348.63,287.28 348.76,286.26 348.9,288.05 349.03,291.41 349.17,291.88 349.31,284.01 349.44,290.08 349.58,290.18 349.71,284.74 349.85,285.92 349.99,287.63 350.12,290.84 350.26,282.29 350.4,288.22 350.53,287.82 350.67,290.19 350.8,295.12 350.94,294.88 351.08,288.46 351.21,288.56 351.35,290.76 351.48,294.5 351.62,295.63 351.76,291.28 351.89,295.82 352.03,287.35 352.17,286.62 352.3,281.54 352.44,287.57 352.57,292.7 352.71,293.87 352.85,304.28 352.98,292.89 353.12,291.27 353.25,287.61 353.39,288.77 353.53,288.9 353.66,290.12 353.8,288.78 353.94,286.38 354.07,295.28 354.21,292.87 354.34,296.72 354.48,286.04 354.62,287.1 354.75,288.86 354.89,296.2 355.02,290.8 355.16,292.36 355.3,291.2 355.43,292.29 355.57,289.92 355.71,293.26 355.84,288.96 355.98,290.97 356.11,293.01 356.25,292.31 356.39,293.74 356.52,289.35 356.66,293.15 356.8,291.12 356.93,293.77 357.07,298.4 357.2,289.31 357.34,296.74 357.48,290.14 357.61,291.04 357.75,299.44 357.88,296.5 358.02,294.74 358.16,296.1 358.29,297.69 358.43,290.31 358.57,293.8 358.7,291.57 358.84,294.73 358.97,291.94 359.11,296.21 359.25,293.16 359.38,291.18 359.52,293.01 359.65,295.18 359.79,297.95 359.93,292.76 360.06,292.23 360.2,294.55 360.34,296.82 360.47,291.72 360.61,285.29 360.74,294.96 360.88,292.57 361.02,292.48 361.15,305.01 361.29,293.44 361.42,297 361.56,289.29 361.7,295.13 361.83,297.49 361.97,295.08 362.11,293.61 362.24,296.7 362.38,294.51 362.51,300.33 362.65,295.38 362.79,291.78 362.92,287.75 363.06,292.12 363.19,293.66 363.33,290.58 363.47,291.19 363.6,289.01 363.74,291.06 363.88,295.38 364.01,294.01 364.15,294.33 364.28,293.96 364.42,294.36 364.56,298.64 364.69,304.67 364.83,298.25 364.96,304.45 365.1,295.07 365.24,295.35 365.37,303.04 365.51,293.05 365.65,292.47 365.78,295.23 365.92,289.74 366.05,289.07 366.19,301.25 366.33,292.1 366.46,294.26 366.6,294.38 366.73,292.6 366.87,299.29 367.01,298.76 367.14,299.9 367.28,299.62 367.42,296.62 367.55,302.97 367.69,301.13 367.82,294.25 367.96,296.7 368.1,295.04 368.23,305.3 368.37,300.19 368.5,299.17 368.64,296.49 368.78,299.42 368.91,293.33 369.05,297.03 369.19,296.75 369.32,296.81 369.46,294.33 369.59,299.19 369.73,292.91 369.87,295.37 370,296.54 370.14,297 370.27,295.29 370.41,293.52 370.55,293.82 370.68,295.96 370.82,294.16 370.96,297 371.09,292.86 371.23,297.66 371.36,307.57 371.5,292.67 371.64,297.28 371.77,303.38 371.91,298.73 372.04,302.1 372.18,290.03 372.32,296.05 372.45,305.59 372.59,295.96 372.73,300 372.86,290.9 373,303.29 373.13,309.19 373.27,297.99 373.41,299.99 373.54,300.38 373.68,308.91 373.82,296.81 373.95,292.13 374.09,307.94 374.22,294.11 374.36,301.42 374.5,289.71 374.63,297.04 374.77,299.68 374.9,294.57 375.04,296.83 375.18,301.84 375.31,296.21 375.45,301.53 375.59,307.96 375.72,291.25 375.86,300.86 375.99,302.21 376.13,297.89 376.27,307.09 376.4,306.1 376.54,301.85 376.67,302 376.81,299.15 376.95,295.11 377.08,301.92 377.22,297.64 377.36,297.26 377.49,305.16 377.63,298.8 377.76,304.54 377.9,295.61 378.04,298.04 378.17,299.8 378.31,306.76 378.44,299.5 378.58,303.93 378.72,297.26 378.85,300.7 378.99,304.31 379.13,296.51 379.26,297.36 379.4,303.32 379.53,295.69 379.67,301.89 379.81,301.99 379.94,299.94 380.08,304.38 380.21,302.81 380.35,301.4 380.49,294.47 380.62,294.63 380.76,302.04 380.9,294.26 381.03,301 381.17,299.28 381.3,297.3 381.44,299.72 381.58,291.18 381.71,300 381.85,307.33 381.98,295.78 382.12,303.28 382.26,302.76 382.39,317.01 382.53,297.16 382.67,297.94 382.8,298.06 382.94,297.36 383.07,294.48 383.21,301.68 383.35,297.64 383.48,305.49 383.62,303.45 383.75,297.26 383.89,300.03 384.03,308.82 384.16,300.23 384.3,302.75 384.44,306.2 384.57,300.05 384.71,304.06 384.84,310.39 384.98,307.96 385.12,294.66 385.25,310.23 385.39,301.16 385.52,299.58 385.66,299.5 385.8,308.85 385.93,303.99 386.07,301.69 386.21,298.97 386.34,305.88 386.48,308.75 386.61,298.23 386.75,297.83 386.89,300.96 387.02,305.89 387.16,300.88 387.29,302.17 387.43,299.13 387.57,326.83 387.7,302.26 387.84,303.66 387.98,308.95 388.11,301.95 388.25,302.75 388.38,305.21 388.52,301.29 388.66,310.88 388.79,303.35 388.93,301.25 389.06,301.92 389.2,298.56 389.34,309.89 389.47,311.65 389.61,302.25 389.75,301.36 389.88,294.24 390.02,300.74 390.15,308.32 390.29,299.99 390.43,308.25 390.56,311.89 390.7,292.29 390.84,302.2 390.97,300.55 391.11,301.24 391.24,295.85 391.38,302.52 391.52,298.5 391.65,309.65 391.79,311.76 391.92,297.68 392.06,297.5 392.2,301.74 392.33,303.02 392.47,303.32 392.61,308 392.74,297.37 392.88,301.26 393.01,301.96 393.15,302.57 393.29,299.64 393.42,302.07 393.56,301.04 393.69,311.07 393.83,302.14 393.97,294.76 394.1,307.45 394.24,305.25 394.38,300.58 394.51,300.32 394.65,301.83 394.78,314 394.92,302.44 395.06,311.57 395.19,309.53 395.33,302.33 395.46,306.53 395.6,301.23 395.74,290.79 395.87,301.43 396.01,301.71 396.15,310.21 396.28,308.77 396.42,311.27 396.55,308.2 396.69,311.51 396.83,309.01 396.96,306.41 397.1,311.09 397.23,313.59 397.37,313.29 397.51,303.26 397.64,305.08 397.78,300.73 397.92,300.67 398.05,307.46 398.19,302.43 398.32,314.03 398.46,295.15 398.6,300.13 398.73,306.88 398.87,312.54 399,303.93 399.14,316.82 399.28,310.37 399.41,302.34 399.55,305.45 399.69,308.76 399.82,301.5 399.96,312.1 400.09,304.62 400.23,308.94 400.37,311.06 400.5,303.88 400.64,312.01 400.77,297.3 400.91,309.63 401.05,296.94 401.18,312.76 401.32,303.4 401.46,313.47 401.59,314.36 401.73,305.55 401.86,303.18 402,314.06 402.14,300.87 402.27,311.25 402.41,305.84 402.54,304.71 402.68,303.73 402.82,317.46 402.95,299 403.09,303.97 403.23,309.22 403.36,312.9 403.5,317.02 403.63,315.03 403.77,304.18 403.91,308.86 404.04,313.73 404.18,310.06 404.31,299.49 404.45,308.92 404.59,310.51 404.72,334.58 404.86,304.8 405,306.8 405.13,310.78 405.27,316.63 405.4,314.31 405.54,310.09 405.68,308.51 405.81,305.49 405.95,304.58 406.08,306.17 406.22,306.21 406.36,313.54 406.49,320.68 406.63,310.58 406.77,313.3 406.9,311.46 407.04,309.14 407.17,315.2 407.31,314.4 407.45,308.14 407.58,306.99 407.72,311.66 407.86,305.2 407.99,309 408.13,314.03 408.26,307.48 408.4,298.63 408.54,311.96 408.67,302.13 408.81,301.13 408.94,300.57 409.08,313.01 409.22,298.11 409.35,307.33 409.49,309.52 409.63,309.4 409.76,305.05 409.9,307.75 410.03,309.14 410.17,301.81 410.31,312.65 410.44,314.71 410.58,304.26 410.71,304.72 410.85,302.84 410.99,325.76 411.12,302.95 411.26,305.9 411.4,299.66 411.53,316.25 411.67,307.26 411.8,310.13 411.94,318.52 412.08,312.97 412.21,302.9 412.35,311.45 412.48,313.1 412.62,304.23 412.76,303.66 412.89,303.69 413.03,313.64 413.17,308.98 413.3,303.54 413.44,312.87 413.57,313.5 413.71,304.61 413.85,300.99 413.98,316.17 414.12,325.52 414.25,318.15 414.39,315.36 414.53,309.74 414.66,305.81 414.8,309.84 414.94,313.45 415.07,308.18 415.21,315.2 415.34,309.3 415.48,313.18 415.62,295.66 415.75,304.98 415.89,314.51 416.02,315.59 416.16,311.98 416.3,319.86 416.43,313.93 416.57,314.01 416.71,304.79 416.84,312.03 416.98,314.43 417.11,318.05 417.25,317.01 417.39,309.77 417.52,310.77 417.66,303.67 417.79,313.53 417.93,304.09 418.07,308.15 418.2,362.97 418.34,322.68 418.48,317.99 418.61,305.79 418.75,302.49 418.88,308.54 419.02,305.74 419.16,312.31 419.29,312.09 419.43,314.04 419.56,304.74 419.7,307.97 419.84,311.28 419.97,311.93 420.11,306.94 420.25,308.15 420.38,315.33 420.52,301.09 420.65,308.55 420.79,309.83 420.93,302.36 421.06,304.69 421.2,310.53 421.33,307.22 421.47,317.1 421.61,314.27 421.74,325.08 421.88,303.79 422.02,322.73 422.15,306.59 422.29,315.65 422.42,316.67 422.56,311.45 422.7,308.8 422.83,307.04 422.97,301.09 423.1,308.38 423.24,305.71 423.38,314.28 423.51,306.61 423.65,309.52 423.79,313.44 423.92,347.58 424.06,310.78 424.19,309.4 424.33,308.33 424.47,313.85 424.6,315.43 424.74,306.59 424.88,321.92 425.01,314.67 425.15,302.46 425.28,328.82 425.42,315.24 425.56,307 425.69,321.76 425.83,297.1 425.96,328.16 426.1,303.17 426.24,302.56 426.37,305.91 426.51,312.21 426.65,308.86 426.78,316.84 426.92,306.54 427.05,318.39 427.19,353.24 427.33,305.61 427.46,318.42 427.6,313.34 427.73,310.01 427.87,320.04 428.01,304.8 428.14,309.14 428.28,321.29 428.42,311.28 428.55,366.46 428.69,315.49 428.82,310.61 428.96,315.89 429.1,305.97 429.23,348.62 429.37,305.91 429.5,311.4 429.64,306.61 429.78,314.85 429.91,314.62 430.05,319.09 430.19,308.14 430.32,306.25 430.46,300.02 430.59,304.41 430.73,309.94 430.87,338.81 431,309.23 431.14,311.5 431.27,303.57 431.41,306.33 431.55,317.13 431.68,316.12 431.82,304.13 431.96,309.77 432.09,313.03 432.23,305.13 432.36,314.14 432.5,313.41"/>
<polyline fill="none" stroke="#111" stroke-width="0.9" stroke-linejoin="round"  points="263.15,232.54 263.58,235.9 264,238.57 264.43,240.64 264.85,242.22 265.28,243.42 265.7,244.34 266.13,245.06 266.56,245.63 266.98,246.09 267.41,246.48 267.83,246.83 268.26,247.14 268.68,247.43 269.11,247.7 269.53,247.96 269.96,248.21 270.38,248.46 270.81,248.71 271.24,248.95 271.66,249.19 272.09,249.43 272.51,249.67 272.94,249.91 273.36,250.15 273.79,250.39 274.21,250.63 274.64,250.87 275.06,251.1 275.49,251.34 275.92,251.58 276.34,251.82 276.77,252.05 277.19,252.29 277.62,252.53 278.04,252.76 278.47,253 278.89,253.24 279.32,253.47 279.75,253.71 280.17,253.95 280.6,254.18 281.02,254.42 281.45,254.66 281.87,254.89 282.3,255.13 282.72,255.36 283.15,255.6 283.57,255.83 284,256.07 284.43,256.3 284.85,256.54 285.28,256.77 285.7,257.01 286.13,257.24 286.55,257.48 286.98,257.71 287.4,257.95 287.83,258.18 288.26,258.41 288.68,258.65 289.11,258.88 289.53,259.11 289.96,259.35 290.38,259.58 290.81,259.81 291.23,260.05 291.66,260.28 292.09,260.51 292.51,260.74 292.94,260.97 293.36,261.21 293.79,261.44 294.21,261.67 294.64,261.9 295.06,262.13 295.49,262.36 295.91,262.59 296.34,262.82 296.77,263.06 297.19,263.29 297.62,263.52 298.04,263.75 298.47,263.98 298.89,264.2 299.32,264.43 299.74,264.66 300.17,264.89 300.6,265.12 301.02,265.35 301.45,265.58 301.87,265.81 302.3,266.03 302.72,266.26 303.15,266.49 303.57,266.72 304,266.94 304.42,267.17 304.85,267.4 305.28,267.62 305.7,267.85 306.13,268.07 306.55,268.3 306.98,268.53 307.4,268.75 307.83,268.98 308.25,269.2 308.68,269.42 309.11,269.65 309.53,269.87 309.96,270.1 310.38,270.32 310.81,270.54 311.23,270.77 311.66,270.99 312.08,271.21 312.51,271.43 312.93,271.65 313.36,271.88 313.79,272.1 314.21,272.32 314.64,272.54 315.06,272.76 315.49,272.98 315.91,273.2 316.34,273.42 316.76,273.64 317.19,273.86 317.62,274.08 318.04,274.29 318.47,274.51 318.89,274.73 319.32,274.95 319.74,275.16 320.17,275.38 320.59,275.6 321.02,275.81 321.44,276.03 321.87,276.25 322.3,276.46 322.72,276.68 323.15,276.89 323.57,277.1 324,277.32 324.42,277.53 324.85,277.74 325.27,277.96 325.7,278.17 326.12,278.38 326.55,278.59 326.98,278.8 327.4,279.01 327.83,279.22 328.25,279.43 328.68,279.64 329.1,279.85 329.53,280.06 329.95,280.27 330.38,280.48 330.81,280.69 331.23,280.89 331.66,281.1 332.08,281.31 332.51,281.51 332.93,281.72 333.36,281.92 333.78,282.13 334.21,282.33 334.63,282.54 335.06,282.74 335.49,282.94 335.91,283.15 336.34,283.35 336.76,283.55 337.19,283.75 337.61,283.95 338.04,284.15 338.46,284.35 338.89,284.55 339.32,284.75 339.74,284.95 340.17,285.15 340.59,285.34 341.02,285.54 341.44,285.74 341.87,285.93 342.29,286.13 342.72,286.32 343.14,286.52 343.57,286.71 344,286.91 344.42,287.1 344.85,287.29 345.27,287.48 345.7,287.67 346.12,287.87 346.55,288.06 346.97,288.25 347.4,288.43 347.83,288.62 348.25,288.81 348.68,289 349.1,289.19 349.53,289.37 349.95,289.56 350.38,289.74 350.8,289.93 351.23,290.11 351.66,290.3 352.08,290.48 352.51,290.66 352.93,290.84 353.36,291.03 353.78,291.21 354.21,291.39 354.63,291.57 355.06,291.74 355.48,291.92 355.91,292.1 356.34,292.28 356.76,292.45 357.19,292.63 357.61,292.8 358.04,292.98 358.46,293.15 358.89,293.33 359.31,293.5 359.74,293.67 360.17,293.84 360.59,294.01 361.02,294.18 361.44,294.35 361.87,294.52 362.29,294.69 362.72,294.86 363.14,295.02 363.57,295.19 363.99,295.36 364.42,295.52 364.85,295.68 365.27,295.85 365.7,296.01 366.12,296.17 366.55,296.33 366.97,296.49 367.4,296.65 367.82,296.81 368.25,296.97 368.68,297.13 369.1,297.29 369.53,297.44 369.95,297.6 370.38,297.75 370.8,297.91 371.23,298.06 371.65,298.22 372.08,298.37 372.5,298.52 372.93,298.67 373.36,298.82 373.78,298.97 374.21,299.12 374.63,299.27 375.06,299.41 375.48,299.56 375.91,299.7 376.33,299.85 376.76,299.99 377.19,300.14 377.61,300.28 378.04,300.42 378.46,300.56 378.89,300.7 379.31,300.84 379.74,300.98 380.16,301.12 380.59,301.26 381.01,301.39 381.44,301.53 381.87,301.66 382.29,301.8 382.72,301.93 383.14,302.07 383.57,302.2 383.99,302.33 384.42,302.46 384.84,302.59 385.27,302.72 385.69,302.85 386.12,302.97 386.55,303.1 386.97,303.23 387.4,303.35 387.82,303.48 388.25,303.6 388.67,303.72 389.1,303.85 389.52,303.97 389.95,304.09 390.38,304.21 390.8,304.33 391.23,304.45 391.65,304.56 392.08,304.68 392.5,304.8 392.93,304.91 393.35,305.03 393.78,305.14 394.21,305.25 394.63,305.37 395.06,305.48 395.48,305.59 395.91,305.7 396.33,305.81 396.76,305.92 397.18,306.03 397.61,306.13 398.03,306.24 398.46,306.34 398.89,306.45 399.31,306.55 399.74,306.66 400.16,306.76 400.59,306.86 401.01,306.96 401.44,307.06 401.86,307.16 402.29,307.26 402.72,307.36 403.14,307.46 403.57,307.55 403.99,307.65 404.42,307.75 404.84,307.84 405.27,307.93 405.69,308.03 406.12,308.12 406.54,308.21 406.97,308.3 407.4,308.39 407.82,308.48 408.25,308.57 408.67,308.66 409.1,308.75 409.52,308.83 409.95,308.92 410.37,309.01 410.8,309.09 411.23,309.17 411.65,309.26 412.08,309.34 412.5,309.42 412.93,309.5 413.35,309.58 413.78,309.66 414.2,309.74 414.63,309.82 415.05,309.9 415.48,309.98 415.91,310.05 416.33,310.13 416.76,310.21 417.18,310.28 417.61,310.35 418.03,310.43 418.46,310.5 418.88,310.57 419.31,310.64 419.74,310.72 420.16,310.79 420.59,310.86 421.01,310.92 421.44,310.99 421.86,311.06 422.29,311.13 422.71,311.19 423.14,311.26 423.56,311.33 423.99,311.39 424.42,311.45 424.84,311.52 425.27,311.58 425.69,311.64 426.12,311.71 426.54,311.77 426.97,311.83 427.39,311.89 427.82,311.95 428.25,312.01 428.67,312.07 429.1,312.12 429.52,312.18 429.95,312.24 430.37,312.29 430.8,312.35 431.22,312.41 431.65,312.46 432.07,312.52 432.5,312.57"/>
<polyline fill="none" stroke="#111" stroke-width="0.9" stroke-linejoin="round"  points="262.98,225.32 263.15,229.45 263.58,238.14 264,244.73 264.43,249.72 264.85,253.68 265.28,257 265.7,259.94 266.13,262.64 266.56,265.17 266.98,267.57 267.41,269.85 267.83,272.03 268.26,274.1 268.68,276.08 269.11,277.96 269.53,279.74 269.96,281.43 270.38,283.04 270.81,284.56 271.24,286 271.66,287.36 272.09,288.64 272.51,289.86 272.94,291.02 273.36,292.11 273.79,293.15 274.21,294.14 274.64,295.08 275.06,295.98 275.49,296.83 275.92,297.64 276.34,298.42 276.77,299.17 277.19,299.89 277.62,300.57 278.04,301.23 278.47,301.87 278.89,302.48 279.32,303.06 279.75,303.63 280.17,304.17 280.6,304.7 281.02,305.2 281.45,305.69 281.87,306.16 282.3,306.62 282.72,307.05 283.15,307.47 283.57,307.88 284,308.27 284.43,308.65 284.85,309.01 285.28,309.36 285.7,309.7 286.13,310.02 286.55,310.34 286.98,310.64 287.4,310.92 287.83,311.2 288.26,311.47 288.68,311.72 289.11,311.97 289.53,312.2 289.96,312.43 290.38,312.64 290.81,312.85 291.23,313.05 291.66,313.24 292.09,313.42 292.51,313.6 292.94,313.76 293.36,313.92 293.79,314.07 294.21,314.22 294.64,314.36 295.06,314.49 295.49,314.62 295.91,314.74 296.34,314.85 296.77,314.96 297.19,315.07 297.62,315.17 298.04,315.27 298.47,315.36 298.89,315.44 299.32,315.53 299.74,315.6 300.17,315.68 300.6,315.75 301.02,315.82 301.45,315.88 301.87,315.94 302.3,316 302.72,316.06 303.15,316.11 303.57,316.16 304,316.21 304.42,316.26 304.85,316.3 305.28,316.34 305.7,316.38 306.13,316.42 306.55,316.45 306.98,316.49 307.4,316.52 307.83,316.55 308.25,316.58 308.68,316.6 309.11,316.63 309.53,316.66 309.96,316.68 310.38,316.7 310.81,316.72 311.23,316.74 311.66,316.76 312.08,316.78 312.51,316.8 312.93,316.81 313.36,316.83 313.79,316.84 314.21,316.86 314.64,316.87 315.06,316.88 315.49,316.9 315.91,316.91 316.34,316.92 316.76,316.93 317.19,316.94 317.62,316.95 318.04,316.96 318.47,316.96 318.89,316.97 319.32,316.98 319.74,316.99 320.17,316.99 320.59,317 321.02,317.01 321.44,317.01 321.87,317.02 322.3,317.02 322.72,317.03 323.15,317.03 323.57,317.04 324,317.04 324.42,317.05 324.85,317.05 325.27,317.05 325.7,317.06 326.12,317.06 326.55,317.06 326.98,317.07 327.4,317.07 327.83,317.07 328.25,317.07 328.68,317.08 329.1,317.08 329.53,317.08 329.95,317.08 330.38,317.08 330.81,317.09 331.23,317.09 331.66,317.09 332.08,317.09 332.51,317.09 332.93,317.09 333.36,317.09 333.78,317.1 334.21,317.1 334.63,317.1 335.06,317.1 335.49,317.1 335.91,317.1 336.34,317.1 336.76,317.1 337.19,317.1 337.61,317.11 338.04,317.11 338.46,317.11 338.89,317.11 339.32,317.11 339.74,317.11 340.17,317.11 340.59,317.11 341.02,317.11 341.44,317.11 341.87,317.11 342.29,317.11 342.72,317.11 343.14,317.11 343.57,317.11 344,317.11 344.42,317.11 344.85,317.11 345.27,317.11 345.7,317.11 346.12,317.11 346.55,317.11 346.97,317.11 347.4,317.12 347.83,317.12 348.25,317.12 348.68,317.12 349.1,317.12 349.53,317.12 349.95,317.12 350.38,317.12 350.8,317.12 351.23,317.12 351.66,317.12 352.08,317.12 352.51,317.12 352.93,317.12 353.36,317.12 353.78,317.12 354.21,317.12 354.63,317.12 355.06,317.12 355.48,317.12 355.91,317.12 356.34,317.12 356.76,317.12 357.19,317.12 357.61,317.12 358.04,317.12 358.46,317.12 358.89,317.12 359.31,317.12 359.74,317.12 360.17,317.12 360.59,317.12 361.02,317.12 361.44,317.12 361.87,317.12 362.29,317.12 362.72,317.12 363.14,317.12 363.57,317.12 363.99,317.12 364.42,317.12 364.85,317.12 365.27,317.12 365.7,317.12 366.12,317.12 366.55,317.12 366.97,317.12 367.4,317.12 367.82,317.12 368.25,317.12 368.68,317.12 369.1,317.12 369.53,317.12 369.95,317.12 370.38,317.12 370.8,317.12 371.23,317.12 371.65,317.12 372.08,317.12 372.5,317.12 372.93,317.12 373.36,317.12 373.78,317.12 374.21,317.12 374.63,317.12 375.06,317.12 375.48,317.12 375.91,317.12 376.33,317.12 376.76,317.12 377.19,317.12 377.61,317.12 378.04,317.12 378.46,317.12 378.89,317.12 379.31,317.12 379.74,317.12 380.16,317.12 380.59,317.12 381.01,317.12"/>
<line x1="262.7" y1="205.5" x2="262.7" y2="229" stroke="#8a0b0b" stroke-width="1.6"/>
</g>
<line x1="262.2" y1="205.5" x2="432.5" y2="205.5" stroke="#444" stroke-width="1.0"/>
<line x1="432.5" y1="205.5" x2="432.5" y2="343.5" stroke="#555" stroke-width="1.0"/>
<line x1="262.2" y1="343.5" x2="432.5" y2="343.5" stroke="#444" stroke-width="1.0"/>
<line x1="262.3" y1="343.5" x2="262.3" y2="340.5" stroke="#333" stroke-width="1.0"/>
<text x="259.13" y="354.7" font-size="11.4" fill="#1a1a1a" >0</text>
<line x1="296.34" y1="343.5" x2="296.34" y2="340.5" stroke="#333" stroke-width="1.0"/>
<text x="286.92" y="354.7" font-size="11.4" fill="#1a1a1a" >400</text>
<line x1="330.38" y1="343.5" x2="330.38" y2="340.5" stroke="#333" stroke-width="1.0"/>
<text x="320.85" y="354.7" font-size="11.4" fill="#1a1a1a" >800</text>
<line x1="364.42" y1="343.5" x2="364.42" y2="340.5" stroke="#333" stroke-width="1.0"/>
<text x="351.53" y="354.7" font-size="11.4" fill="#1a1a1a" >1200</text>
<line x1="398.46" y1="343.5" x2="398.46" y2="340.5" stroke="#333" stroke-width="1.0"/>
<text x="385.57" y="354.7" font-size="11.4" fill="#1a1a1a" >1600</text>
<line x1="432.5" y1="343.5" x2="432.5" y2="340.5" stroke="#333" stroke-width="1.0"/>
<text x="419.76" y="354.7" font-size="11.4" fill="#1a1a1a" >2000</text>
<line x1="279.32" y1="343.5" x2="279.32" y2="341.5" stroke="#333" stroke-width="1.0"/>
<line x1="313.36" y1="343.5" x2="313.36" y2="341.5" stroke="#333" stroke-width="1.0"/>
<line x1="347.4" y1="343.5" x2="347.4" y2="341.5" stroke="#333" stroke-width="1.0"/>
<line x1="381.44" y1="343.5" x2="381.44" y2="341.5" stroke="#333" stroke-width="1.0"/>
<line x1="415.48" y1="343.5" x2="415.48" y2="341.5" stroke="#333" stroke-width="1.0"/>
<text x="255.17" y="204.9" font-size="7.4" fill="#1a1a1a" >0</text>
<text x="242.18" y="209.45" font-size="11.2" fill="#1a1a1a" >10</text>
<line x1="262.2" y1="251.5" x2="265.2" y2="251.5" stroke="#333" stroke-width="1.0"/>
<text x="252.48" y="250.9" font-size="7.4" fill="#1a1a1a" >-1</text>
<text x="239.28" y="255.45" font-size="11.2" fill="#1a1a1a" >10</text>
<line x1="262.2" y1="297.5" x2="265.2" y2="297.5" stroke="#333" stroke-width="1.0"/>
<text x="252.49" y="296.9" font-size="7.4" fill="#1a1a1a" >-2</text>
<text x="239.28" y="301.45" font-size="11.2" fill="#1a1a1a" >10</text>
<text x="252.45" y="342.9" font-size="7.4" fill="#1a1a1a" >-3</text>
<text x="239.28" y="347.45" font-size="11.2" fill="#1a1a1a" >10</text>
<text x="306.92" y="257.4" font-size="10.25" fill="#8a1c24" >1.62 eV</text>
<text x="278.04" y="288" font-size="9.98" fill="#1c8a24" >1.77 eV</text>
<text x="263.46" y="369.9" font-size="15.42" fill="#1a1a1a" >Time after excitation (ns)</text>
<text transform="translate(232,300.27) rotate(-90)" font-size="15.51" fill="#1a1a1a">Norm. PL</text>
<line x1="496" y1="205" x2="666.5" y2="205" stroke="#7a7a7a" stroke-width="1.0"/>
<line x1="666.5" y1="205" x2="666.5" y2="342.5" stroke="#888" stroke-width="1.0"/>
<line x1="496" y1="342.5" x2="666.5" y2="342.5" stroke="#5a5a5a" stroke-width="1.0"/>
<line x1="496" y1="204.5" x2="496" y2="343" stroke="#888" stroke-width="1.0"/>
<line x1="507.9" y1="342.5" x2="507.9" y2="339.5" stroke="#5a5a5a" stroke-width="1.0"/>
<text x="504.73" y="354.5" font-size="11.4" fill="#1a1a1a" >0</text>
<line x1="532.35" y1="342.5" x2="532.35" y2="339.5" stroke="#5a5a5a" stroke-width="1.0"/>
<text x="522.63" y="354.5" font-size="11.4" fill="#1a1a1a" >100</text>
<line x1="556.8" y1="342.5" x2="556.8" y2="339.5" stroke="#5a5a5a" stroke-width="1.0"/>
<text x="547.23" y="354.5" font-size="11.4" fill="#1a1a1a" >200</text>
<line x1="581.25" y1="342.5" x2="581.25" y2="339.5" stroke="#5a5a5a" stroke-width="1.0"/>
<text x="571.75" y="354.5" font-size="11.4" fill="#1a1a1a" >300</text>
<line x1="605.7" y1="342.5" x2="605.7" y2="339.5" stroke="#5a5a5a" stroke-width="1.0"/>
<text x="596.28" y="354.5" font-size="11.4" fill="#1a1a1a" >400</text>
<line x1="630.15" y1="342.5" x2="630.15" y2="339.5" stroke="#5a5a5a" stroke-width="1.0"/>
<text x="620.64" y="354.5" font-size="11.4" fill="#1a1a1a" >500</text>
<line x1="654.6" y1="342.5" x2="654.6" y2="339.5" stroke="#5a5a5a" stroke-width="1.0"/>
<text x="645.02" y="354.5" font-size="11.4" fill="#1a1a1a" >600</text>
<text x="473.93" y="346.15" font-size="11.4" fill="#1a1a1a" >680</text>
<line x1="496" y1="319.43" x2="499" y2="319.43" stroke="#5a5a5a" stroke-width="1.0"/>
<text x="473.93" y="323.38" font-size="11.4" fill="#1a1a1a" >700</text>
<line x1="496" y1="296.67" x2="499" y2="296.67" stroke="#5a5a5a" stroke-width="1.0"/>
<text x="473.93" y="300.62" font-size="11.4" fill="#1a1a1a" >720</text>
<line x1="496" y1="273.9" x2="499" y2="273.9" stroke="#5a5a5a" stroke-width="1.0"/>
<text x="473.93" y="277.85" font-size="11.4" fill="#1a1a1a" >740</text>
<line x1="496" y1="251.13" x2="499" y2="251.13" stroke="#5a5a5a" stroke-width="1.0"/>
<text x="473.93" y="255.08" font-size="11.4" fill="#1a1a1a" >760</text>
<line x1="496" y1="228.37" x2="499" y2="228.37" stroke="#5a5a5a" stroke-width="1.0"/>
<text x="473.93" y="232.32" font-size="11.4" fill="#1a1a1a" >780</text>
<text x="473.93" y="209.55" font-size="11.4" fill="#1a1a1a" >800</text>
<text x="553.35" y="370.1" font-size="15.68" fill="#1a1a1a" >Time (s)</text>
<text transform="translate(464.2,340.88) rotate(-90)" font-size="15.58" fill="#1a1a1a">PL peak position (nm)</text>
<text x="500.55" y="219.9" font-size="11.57" fill="#1a1a1a" >Light-soaking at 5 Sun Intensity</text>
<defs>
<radialGradient id="bR" cx="0.5" cy="0.5" r="0.5" fx="0.38" fy="0.36"><stop offset="0" stop-color="#fff"/><stop offset="0.3" stop-color="#a01010"/><stop offset="0.75" stop-color="#a01010"/><stop offset="1" stop-color="#6a0606"/></radialGradient>
<radialGradient id="bG" cx="0.5" cy="0.5" r="0.5" fx="0.38" fy="0.36"><stop offset="0" stop-color="#fff"/><stop offset="0.3" stop-color="#18b018"/><stop offset="0.75" stop-color="#18b018"/><stop offset="1" stop-color="#0a700a"/></radialGradient>
<radialGradient id="bB" cx="0.5" cy="0.5" r="0.5" fx="0.38" fy="0.36"><stop offset="0" stop-color="#fff"/><stop offset="0.3" stop-color="#1818ff"/><stop offset="0.75" stop-color="#1818ff"/><stop offset="1" stop-color="#0000b0"/></radialGradient>
</defs>
<polyline fill="none" stroke="#a84848" stroke-width="1.5" stroke-linejoin="round"  points="507.9,244.76 551.91,244.76 581.25,244.76 654.6,244.76"/>
<polyline fill="none" stroke="#34a034" stroke-width="1.4" stroke-linejoin="round"  points="507.9,302.36 551.91,302.36 581.25,302.36 654.6,302.36"/>
<circle cx="507.9" cy="244.76" r="3.2" fill="url(#bR)"/>
<circle cx="551.91" cy="244.76" r="3.2" fill="url(#bR)"/>
<circle cx="581.25" cy="244.76" r="3.2" fill="url(#bR)"/>
<circle cx="654.6" cy="244.76" r="3.2" fill="url(#bR)"/>
<circle cx="507.9" cy="302.36" r="3.2" fill="url(#bG)"/>
<circle cx="551.91" cy="302.36" r="3.2" fill="url(#bG)"/>
<circle cx="581.25" cy="302.36" r="3.2" fill="url(#bG)"/>
<circle cx="654.6" cy="302.36" r="3.2" fill="url(#bG)"/>
<polyline fill="none" stroke="#2222ee" stroke-width="1.2" stroke-linejoin="round"  points="507.9,325.12 581.25,247.49 654.6,240.43"/>
<circle cx="507.9" cy="325.12" r="3.2" fill="url(#bB)"/>
<circle cx="581.25" cy="247.49" r="3.2" fill="url(#bB)"/>
<circle cx="654.6" cy="240.43" r="3.2" fill="url(#bB)"/>
<line x1="601.6" y1="264" x2="617.8" y2="264" stroke="#8e2a2a" stroke-width="1.3"/>
<circle cx="609.6" cy="264" r="3.0" fill="url(#bR)"/>
<text x="620.61" y="267.1" font-size="10.34" fill="#1a1a1a" >1.62 eV</text>
<line x1="601.6" y1="277.05" x2="617.8" y2="277.05" stroke="#34a034" stroke-width="1.3"/>
<circle cx="609.6" cy="277.05" r="3.0" fill="url(#bG)"/>
<text x="620.61" y="280.15" font-size="10.34" fill="#1a1a1a" >1.77 eV</text>
<line x1="601.6" y1="290.1" x2="617.8" y2="290.1" stroke="#7272f0" stroke-width="1.3"/>
<circle cx="609.6" cy="290.1" r="3.0" fill="url(#bB)"/>
<text x="620.62" y="293.2" font-size="10.3" fill="#1a1a1a" >1.8&#160; eV</text>
</svg>
</body></html>
